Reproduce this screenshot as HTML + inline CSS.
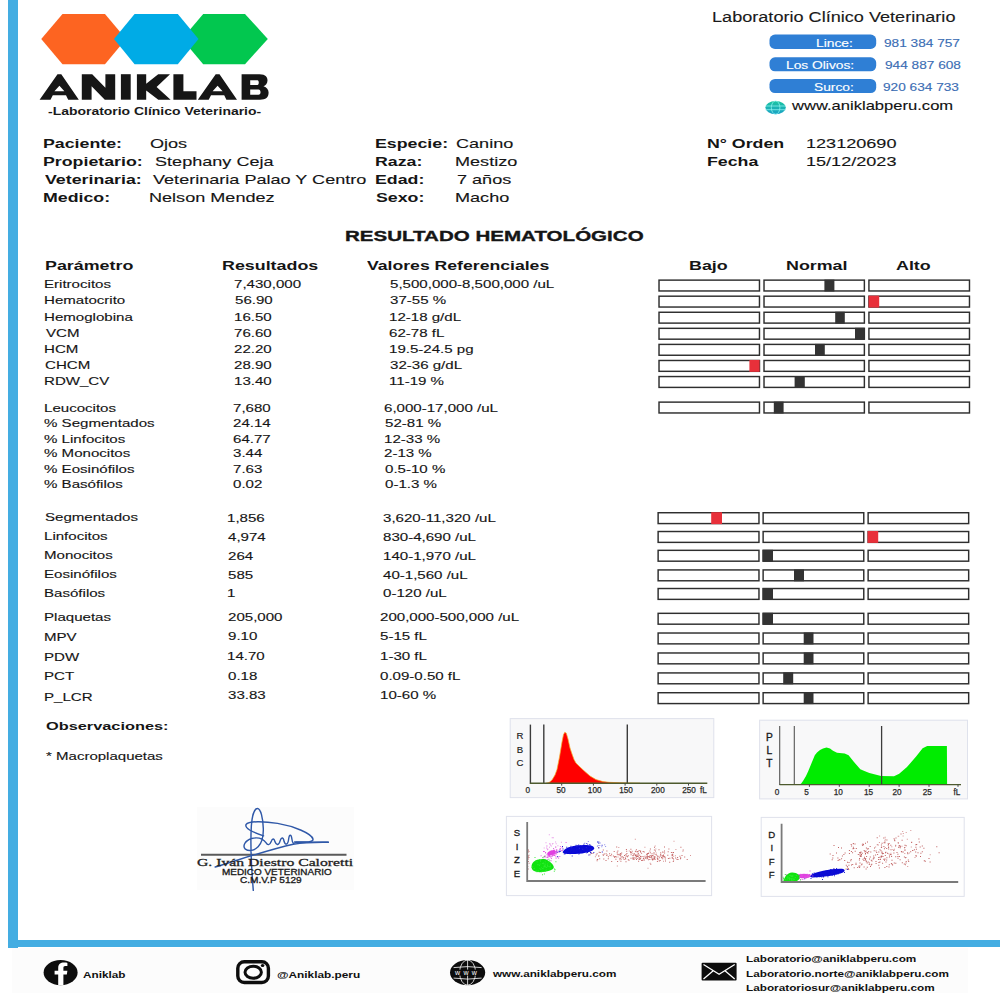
<!DOCTYPE html>
<html><head><meta charset="utf-8"><style>
html,body{margin:0;padding:0;background:#fff;width:1000px;height:1000px;overflow:hidden;position:relative}
.t{position:absolute;white-space:nowrap;line-height:normal;transform-origin:0 0;font-family:'Liberation Sans',sans-serif;-webkit-text-stroke:0.12px currentColor}
</style></head><body>
<div style="position:absolute;left:12px;top:948px;width:956px;height:45px;background:#fcfcfc"></div>
<div style="position:absolute;left:7.5px;top:0;width:10px;height:947.5px;background:#44ade2"></div>
<div style="position:absolute;left:7.5px;top:940.3px;width:992.5px;height:7.2px;background:#44ade2"></div>
<svg style="position:absolute;left:0;top:0" width="300" height="130" viewBox="0 0 300 130"><polygon fill="#fd6421" points="41.25,38.9 62.5,13.9 105,13.9 126,38.9 105,64.2 62.5,64.2"/><polygon fill="#02c74f" points="182,38.9 203.2,13.9 245,13.9 267.8,38.9 245,64.2 203.2,64.2"/><polygon fill="#00abe6" points="114,38.9 134.6,13.9 177.8,13.9 198.5,38.9 177.8,64.2 134.6,64.2"/><path fill="#161616" fill-rule="evenodd" d="M39.6,99.7 L57.50000000000001,74.2 L61.300000000000004,74.2 L78.80000000000001,99.7 L68.2,99.7 L66.0,95.3 L52.8,95.3 L50.5,99.7 Z M59.400000000000006,85.7 L54.400000000000006,91.3 L64.4,91.3 Z"/><path fill="#161616" d="M81.8,99.7 L81.8,74.2 L92.2,74.2 L105.4,87.7 L105.4,74.2 L115.2,74.2 L115.2,99.7 L104.8,99.7 L91.6,86.2 L91.6,99.7 Z"/><rect fill="#161616" x="120.9" y="74.2" width="9.8" height="25.5"/><path fill="#161616" d="M136.9,74.2 L146.2,74.2 L146.2,83.7 L158.2,74.2 L170,74.2 L156.6,87.10000000000001 L170.6,99.7 L158.3,99.7 L146.2,90.5 L146.2,99.7 L136.9,99.7 Z"/><path fill="#161616" d="M173.4,74.2 L183.4,74.2 L183.4,91.3 L196.5,91.3 L196.5,99.7 L173.4,99.7 Z"/><path fill="#161616" fill-rule="evenodd" d="M197.8,99.7 L215.70000000000002,74.2 L219.50000000000003,74.2 L237.0,99.7 L226.4,99.7 L224.20000000000002,95.3 L211.0,95.3 L208.70000000000002,99.7 Z M217.60000000000002,85.7 L212.60000000000002,91.3 L222.60000000000002,91.3 Z"/><path fill="#161616" fill-rule="evenodd" d="M241.6,74.2 L259.5,74.2 C266,74.2 267.5,77.4 267.5,80.4 C267.5,83.4 265.5,85.2 263.5,86.2 C266.8,87.2 268.6,89.7 268.6,92.6 C268.6,97.5 265.8,99.7 260,99.7 L241.6,99.7 Z M250.2,80.2 L257.5,80.2 C259.2,80.2 259.2,85.0 257.5,85.0 L250.2,85.0 Z M250.2,89.60000000000001 L258.5,89.60000000000001 C261.2,89.60000000000001 261.2,94.80000000000001 258.5,94.80000000000001 L250.2,94.80000000000001 Z"/></svg>
<svg style="position:absolute;left:0;top:0" width="1000" height="130"><rect x="769.5" y="34.6" width="106.7" height="14.3" rx="5.5" fill="#2f7fd5"/><rect x="769.5" y="57.3" width="106.7" height="14.0" rx="5.5" fill="#2f7fd5"/><rect x="769.5" y="78.9" width="106.7" height="14.1" rx="5.5" fill="#2f7fd5"/><defs><linearGradient id="gg" x1="0" y1="0" x2="0" y2="1"><stop offset="0" stop-color="#1cc4a0"/><stop offset="1" stop-color="#1ba2c6"/></linearGradient></defs><ellipse cx="775.6" cy="107.6" rx="10.2" ry="6.6" fill="url(#gg)"/><g stroke="#8ff4f0" stroke-width="0.75" fill="none"><ellipse cx="775.6" cy="107.6" rx="4.3" ry="6.6"/><line x1="765.4" y1="106.0" x2="785.8000000000001" y2="106.0"/><line x1="765.4" y1="109.69999999999999" x2="785.8000000000001" y2="109.69999999999999"/></g></svg>
<svg style="position:absolute;left:0;top:0" width="1000" height="720"><rect x="659.02" y="280.12" width="100.45" height="10.85" fill="#fff" stroke="#2e2e2e" stroke-width="1.45"/><rect x="764.02" y="280.12" width="100.35" height="10.85" fill="#fff" stroke="#2e2e2e" stroke-width="1.45"/><rect x="868.93" y="280.12" width="100.55" height="10.85" fill="#fff" stroke="#2e2e2e" stroke-width="1.45"/><rect x="824.4" y="279.60" width="10.00" height="11.90" fill="#333333"/><rect x="659.02" y="296.19" width="100.45" height="10.85" fill="#fff" stroke="#2e2e2e" stroke-width="1.45"/><rect x="764.02" y="296.19" width="100.35" height="10.85" fill="#fff" stroke="#2e2e2e" stroke-width="1.45"/><rect x="868.93" y="296.19" width="100.55" height="10.85" fill="#fff" stroke="#2e2e2e" stroke-width="1.45"/><rect x="868.6" y="295.67" width="10.60" height="11.90" fill="#e8303a"/><rect x="659.02" y="312.26" width="100.45" height="10.85" fill="#fff" stroke="#2e2e2e" stroke-width="1.45"/><rect x="764.02" y="312.26" width="100.35" height="10.85" fill="#fff" stroke="#2e2e2e" stroke-width="1.45"/><rect x="868.93" y="312.26" width="100.55" height="10.85" fill="#fff" stroke="#2e2e2e" stroke-width="1.45"/><rect x="835.2" y="311.74" width="9.60" height="11.90" fill="#333333"/><rect x="659.02" y="328.33" width="100.45" height="10.85" fill="#fff" stroke="#2e2e2e" stroke-width="1.45"/><rect x="764.02" y="328.33" width="100.35" height="10.85" fill="#fff" stroke="#2e2e2e" stroke-width="1.45"/><rect x="868.93" y="328.33" width="100.55" height="10.85" fill="#fff" stroke="#2e2e2e" stroke-width="1.45"/><rect x="855.0" y="327.81" width="9.60" height="11.90" fill="#333333"/><rect x="659.02" y="344.40" width="100.45" height="10.85" fill="#fff" stroke="#2e2e2e" stroke-width="1.45"/><rect x="764.02" y="344.40" width="100.35" height="10.85" fill="#fff" stroke="#2e2e2e" stroke-width="1.45"/><rect x="868.93" y="344.40" width="100.55" height="10.85" fill="#fff" stroke="#2e2e2e" stroke-width="1.45"/><rect x="815.0" y="343.88" width="9.80" height="11.90" fill="#333333"/><rect x="659.02" y="360.48" width="100.45" height="10.85" fill="#fff" stroke="#2e2e2e" stroke-width="1.45"/><rect x="764.02" y="360.48" width="100.35" height="10.85" fill="#fff" stroke="#2e2e2e" stroke-width="1.45"/><rect x="868.93" y="360.48" width="100.55" height="10.85" fill="#fff" stroke="#2e2e2e" stroke-width="1.45"/><rect x="749.4" y="359.95" width="10.20" height="11.90" fill="#e8303a"/><rect x="659.02" y="376.55" width="100.45" height="10.85" fill="#fff" stroke="#2e2e2e" stroke-width="1.45"/><rect x="764.02" y="376.55" width="100.35" height="10.85" fill="#fff" stroke="#2e2e2e" stroke-width="1.45"/><rect x="868.93" y="376.55" width="100.55" height="10.85" fill="#fff" stroke="#2e2e2e" stroke-width="1.45"/><rect x="794.6" y="376.02" width="10.20" height="11.90" fill="#333333"/><rect x="659.02" y="402.12" width="100.45" height="10.85" fill="#fff" stroke="#2e2e2e" stroke-width="1.45"/><rect x="764.02" y="402.12" width="100.35" height="10.85" fill="#fff" stroke="#2e2e2e" stroke-width="1.45"/><rect x="868.93" y="402.12" width="100.55" height="10.85" fill="#fff" stroke="#2e2e2e" stroke-width="1.45"/><rect x="773.8" y="401.60" width="9.80" height="11.90" fill="#333333"/><rect x="658.12" y="512.73" width="100.85" height="10.85" fill="#fff" stroke="#2e2e2e" stroke-width="1.45"/><rect x="763.12" y="512.73" width="100.65" height="10.85" fill="#fff" stroke="#2e2e2e" stroke-width="1.45"/><rect x="868.12" y="512.73" width="100.55" height="10.85" fill="#fff" stroke="#2e2e2e" stroke-width="1.45"/><rect x="711.2" y="512.20" width="10.80" height="11.90" fill="#e8303a"/><rect x="658.12" y="531.52" width="100.85" height="10.85" fill="#fff" stroke="#2e2e2e" stroke-width="1.45"/><rect x="763.12" y="531.52" width="100.65" height="10.85" fill="#fff" stroke="#2e2e2e" stroke-width="1.45"/><rect x="868.12" y="531.52" width="100.55" height="10.85" fill="#fff" stroke="#2e2e2e" stroke-width="1.45"/><rect x="867.6" y="531.00" width="10.60" height="11.90" fill="#e8303a"/><rect x="658.12" y="550.33" width="100.85" height="10.85" fill="#fff" stroke="#2e2e2e" stroke-width="1.45"/><rect x="763.12" y="550.33" width="100.65" height="10.85" fill="#fff" stroke="#2e2e2e" stroke-width="1.45"/><rect x="868.12" y="550.33" width="100.55" height="10.85" fill="#fff" stroke="#2e2e2e" stroke-width="1.45"/><rect x="762.6" y="549.80" width="10.40" height="11.90" fill="#333333"/><rect x="658.12" y="569.93" width="100.85" height="10.85" fill="#fff" stroke="#2e2e2e" stroke-width="1.45"/><rect x="763.12" y="569.93" width="100.65" height="10.85" fill="#fff" stroke="#2e2e2e" stroke-width="1.45"/><rect x="868.12" y="569.93" width="100.55" height="10.85" fill="#fff" stroke="#2e2e2e" stroke-width="1.45"/><rect x="794" y="569.40" width="10.00" height="11.90" fill="#333333"/><rect x="658.12" y="588.52" width="100.85" height="10.85" fill="#fff" stroke="#2e2e2e" stroke-width="1.45"/><rect x="763.12" y="588.52" width="100.65" height="10.85" fill="#fff" stroke="#2e2e2e" stroke-width="1.45"/><rect x="868.12" y="588.52" width="100.55" height="10.85" fill="#fff" stroke="#2e2e2e" stroke-width="1.45"/><rect x="762.6" y="588.00" width="10.40" height="11.90" fill="#333333"/><rect x="658.12" y="613.33" width="100.85" height="10.85" fill="#fff" stroke="#2e2e2e" stroke-width="1.45"/><rect x="763.12" y="613.33" width="100.65" height="10.85" fill="#fff" stroke="#2e2e2e" stroke-width="1.45"/><rect x="868.12" y="613.33" width="100.55" height="10.85" fill="#fff" stroke="#2e2e2e" stroke-width="1.45"/><rect x="762.6" y="612.80" width="10.40" height="11.90" fill="#333333"/><rect x="658.12" y="633.02" width="100.85" height="10.85" fill="#fff" stroke="#2e2e2e" stroke-width="1.45"/><rect x="763.12" y="633.02" width="100.65" height="10.85" fill="#fff" stroke="#2e2e2e" stroke-width="1.45"/><rect x="868.12" y="633.02" width="100.55" height="10.85" fill="#fff" stroke="#2e2e2e" stroke-width="1.45"/><rect x="803.7" y="632.50" width="9.80" height="11.90" fill="#333333"/><rect x="658.12" y="652.98" width="100.85" height="10.85" fill="#fff" stroke="#2e2e2e" stroke-width="1.45"/><rect x="763.12" y="652.98" width="100.65" height="10.85" fill="#fff" stroke="#2e2e2e" stroke-width="1.45"/><rect x="868.12" y="652.98" width="100.55" height="10.85" fill="#fff" stroke="#2e2e2e" stroke-width="1.45"/><rect x="803.7" y="652.45" width="9.80" height="11.90" fill="#333333"/><rect x="658.12" y="672.93" width="100.85" height="10.85" fill="#fff" stroke="#2e2e2e" stroke-width="1.45"/><rect x="763.12" y="672.93" width="100.65" height="10.85" fill="#fff" stroke="#2e2e2e" stroke-width="1.45"/><rect x="868.12" y="672.93" width="100.55" height="10.85" fill="#fff" stroke="#2e2e2e" stroke-width="1.45"/><rect x="783.2" y="672.40" width="10.00" height="11.90" fill="#333333"/><rect x="658.12" y="692.73" width="100.85" height="10.85" fill="#fff" stroke="#2e2e2e" stroke-width="1.45"/><rect x="763.12" y="692.73" width="100.65" height="10.85" fill="#fff" stroke="#2e2e2e" stroke-width="1.45"/><rect x="868.12" y="692.73" width="100.55" height="10.85" fill="#fff" stroke="#2e2e2e" stroke-width="1.45"/><rect x="803.7" y="692.20" width="9.80" height="11.90" fill="#333333"/></svg>
<svg style="position:absolute;left:0;top:0" width="1000" height="1000"><rect x="510.2" y="718.6" width="203.6" height="79" fill="#f8f8f9" stroke="#dfe2ec" stroke-width="1"/><path d="M546,783.3 L549,782.6 L552,780 L555,775 L557,769.6 L559.5,757 L562,742 L563.5,734.5 L564.8,732.3 L566.3,733.2 L568,739 L570,748 L572,754 L574,759.5 L575.9,763 L580,767 L584.3,771 L590,776 L596,779.6 L603,781.6 L609,782.3 L620,782.8 L640,783.3 Z" fill="#ff0000" stroke="#f3b028" stroke-width="0.7"/><g stroke="#3c3c3c" stroke-width="1.4"><line x1="530.4" y1="724.6" x2="530.4" y2="784"/><line x1="543.8" y1="724.6" x2="543.8" y2="783.3"/><line x1="627.3" y1="724.4" x2="627.3" y2="783.3"/></g><line x1="530" y1="783.3" x2="707.3" y2="783.3" stroke="#4d5a2e" stroke-width="1.4"/><line x1="561.7" y1="783.3" x2="561.7" y2="785.6" stroke="#444" stroke-width="1"/><line x1="593.4" y1="783.3" x2="593.4" y2="785.6" stroke="#444" stroke-width="1"/><line x1="625.1" y1="783.3" x2="625.1" y2="785.6" stroke="#444" stroke-width="1"/><line x1="656.8" y1="783.3" x2="656.8" y2="785.6" stroke="#444" stroke-width="1"/><line x1="688.5" y1="783.3" x2="688.5" y2="785.6" stroke="#444" stroke-width="1"/><text stroke="#2a2a2a" stroke-width="0.25" x="527.7" y="793.4" font-size="8.2" text-anchor="middle" font-weight="normal" fill="#2a2a2a" font-family="Liberation Sans">0</text><text stroke="#2a2a2a" stroke-width="0.25" x="561" y="793.4" font-size="8.2" text-anchor="middle" font-weight="normal" fill="#2a2a2a" font-family="Liberation Sans">50</text><text stroke="#2a2a2a" stroke-width="0.25" x="594.7" y="793.4" font-size="8.2" text-anchor="middle" font-weight="normal" fill="#2a2a2a" font-family="Liberation Sans">100</text><text stroke="#2a2a2a" stroke-width="0.25" x="626" y="793.4" font-size="8.2" text-anchor="middle" font-weight="normal" fill="#2a2a2a" font-family="Liberation Sans">150</text><text stroke="#2a2a2a" stroke-width="0.25" x="657.9" y="793.4" font-size="8.2" text-anchor="middle" font-weight="normal" fill="#2a2a2a" font-family="Liberation Sans">200</text><text stroke="#2a2a2a" stroke-width="0.25" x="689" y="793.4" font-size="8.2" text-anchor="middle" font-weight="normal" fill="#2a2a2a" font-family="Liberation Sans">250</text><text stroke="#2a2a2a" stroke-width="0.25" x="703.4" y="793.4" font-size="8.2" text-anchor="middle" font-weight="normal" fill="#2a2a2a" font-family="Liberation Sans">fL</text><text stroke="#1a1a1a" stroke-width="0.15" x="520" y="739.2" font-size="9.6" text-anchor="middle" font-weight="normal" fill="#1a1a1a" font-family="Liberation Sans">R</text><text stroke="#1a1a1a" stroke-width="0.15" x="520" y="752.8" font-size="9.6" text-anchor="middle" font-weight="normal" fill="#1a1a1a" font-family="Liberation Sans">B</text><text stroke="#1a1a1a" stroke-width="0.15" x="520" y="766.4" font-size="9.6" text-anchor="middle" font-weight="normal" fill="#1a1a1a" font-family="Liberation Sans">C</text><rect x="759.6" y="720.2" width="207.9" height="78.7" fill="#f8f8f9" stroke="#dfe2ec" stroke-width="1"/><path d="M798.6,784.6 L801,783.8 L803,781 L806,776 L808.3,770.9 L812,762 L814.8,755.3 L817,752.5 L820,750.1 L823,748.6 L826.5,747.6 L830,748.6 L833,750.8 L837,752.7 L844.7,753.4 L848.6,755.3 L854,762 L860.3,769.2 L865,771.3 L869.4,772.9 L881.1,776.1 L894,776.3 L899.2,773.7 L907,767 L916.1,756.6 L922.6,748.2 L927.2,746 L946.9,746 L947.1,784.6 Z" fill="#00ec00"/><g stroke="#555" stroke-width="1.1"><line x1="779.7" y1="726" x2="779.7" y2="785"/><line x1="794.3" y1="726" x2="794.3" y2="784.6"/></g><g stroke="#3c3c3c" stroke-width="1.3"><line x1="881.6" y1="726" x2="881.6" y2="784.6"/></g><line x1="779.5" y1="784.6" x2="961" y2="784.6" stroke="#4d5a2e" stroke-width="1.4"/><line x1="809.4" y1="784.6" x2="809.4" y2="786.8" stroke="#444" stroke-width="1"/><line x1="839.3" y1="784.6" x2="839.3" y2="786.8" stroke="#444" stroke-width="1"/><line x1="869.2" y1="784.6" x2="869.2" y2="786.8" stroke="#444" stroke-width="1"/><line x1="899.1" y1="784.6" x2="899.1" y2="786.8" stroke="#444" stroke-width="1"/><line x1="929.0" y1="784.6" x2="929.0" y2="786.8" stroke="#444" stroke-width="1"/><line x1="958.0" y1="784.6" x2="958.0" y2="786.8" stroke="#444" stroke-width="1"/><text stroke="#2a2a2a" stroke-width="0.25" x="777" y="795" font-size="8.2" text-anchor="middle" font-weight="normal" fill="#2a2a2a" font-family="Liberation Sans">0</text><text stroke="#2a2a2a" stroke-width="0.25" x="806.6" y="795" font-size="8.2" text-anchor="middle" font-weight="normal" fill="#2a2a2a" font-family="Liberation Sans">5</text><text stroke="#2a2a2a" stroke-width="0.25" x="838.2" y="795" font-size="8.2" text-anchor="middle" font-weight="normal" fill="#2a2a2a" font-family="Liberation Sans">10</text><text stroke="#2a2a2a" stroke-width="0.25" x="868.5" y="795" font-size="8.2" text-anchor="middle" font-weight="normal" fill="#2a2a2a" font-family="Liberation Sans">15</text><text stroke="#2a2a2a" stroke-width="0.25" x="897" y="795" font-size="8.2" text-anchor="middle" font-weight="normal" fill="#2a2a2a" font-family="Liberation Sans">20</text><text stroke="#2a2a2a" stroke-width="0.25" x="927.2" y="795" font-size="8.2" text-anchor="middle" font-weight="normal" fill="#2a2a2a" font-family="Liberation Sans">25</text><text stroke="#2a2a2a" stroke-width="0.25" x="957" y="795" font-size="8.2" text-anchor="middle" font-weight="normal" fill="#2a2a2a" font-family="Liberation Sans">fL</text><text stroke="#1a1a1a" stroke-width="0.35" x="769.3" y="740.6" font-size="10.2" text-anchor="middle" font-weight="normal" fill="#1a1a1a" font-family="Liberation Sans">P</text><text stroke="#1a1a1a" stroke-width="0.35" x="769.3" y="754.2" font-size="10.2" text-anchor="middle" font-weight="normal" fill="#1a1a1a" font-family="Liberation Sans">L</text><text stroke="#1a1a1a" stroke-width="0.35" x="769.3" y="767.2" font-size="10.2" text-anchor="middle" font-weight="normal" fill="#1a1a1a" font-family="Liberation Sans">T</text><rect x="506.4" y="816.4" width="205.2" height="79.2" fill="#fefefe" stroke="#dfe2ec" stroke-width="1"/><path fill="#b84040" opacity="0.8" d="M634.4,857.2h1.0v1.0h-1.0zM635.0,854.4h1.0v1.0h-1.0zM619.5,854.8h1.0v1.0h-1.0zM664.5,856.9h1.0v1.0h-1.0zM662.8,856.3h1.0v1.0h-1.0zM648.7,856.1h1.0v1.0h-1.0zM603.3,858.4h1.0v1.0h-1.0zM651.1,857.2h1.0v1.0h-1.0zM602.8,849.6h1.0v1.0h-1.0zM620.4,853.9h1.0v1.0h-1.0zM646.7,855.3h1.0v1.0h-1.0zM651.5,853.3h1.0v1.0h-1.0zM646.8,856.8h1.0v1.0h-1.0zM625.5,861.3h1.0v1.0h-1.0zM652.2,859.6h1.0v1.0h-1.0zM626.4,853.0h1.0v1.0h-1.0zM632.4,855.1h1.0v1.0h-1.0zM653.9,856.3h1.0v1.0h-1.0zM630.2,852.2h1.0v1.0h-1.0zM628.5,859.7h1.0v1.0h-1.0zM622.2,856.3h1.0v1.0h-1.0zM649.4,850.4h1.0v1.0h-1.0zM641.1,859.9h1.0v1.0h-1.0zM595.7,854.4h1.0v1.0h-1.0zM637.7,852.7h1.0v1.0h-1.0zM650.9,855.3h1.0v1.0h-1.0zM607.8,858.3h1.0v1.0h-1.0zM654.7,858.7h1.0v1.0h-1.0zM671.7,856.7h1.0v1.0h-1.0zM642.6,851.1h1.0v1.0h-1.0zM653.5,853.4h1.0v1.0h-1.0zM630.0,851.2h1.0v1.0h-1.0zM618.7,853.7h1.0v1.0h-1.0zM668.4,848.6h1.0v1.0h-1.0zM607.9,856.3h1.0v1.0h-1.0zM671.8,857.5h1.0v1.0h-1.0zM598.2,846.9h1.0v1.0h-1.0zM647.9,853.0h1.0v1.0h-1.0zM615.4,858.8h1.0v1.0h-1.0zM664.2,856.0h1.0v1.0h-1.0zM645.4,857.0h1.0v1.0h-1.0zM675.1,857.6h1.0v1.0h-1.0zM651.4,857.4h1.0v1.0h-1.0zM605.5,859.9h1.0v1.0h-1.0zM661.0,857.3h1.0v1.0h-1.0zM596.6,853.3h1.0v1.0h-1.0zM658.5,849.3h1.0v1.0h-1.0zM636.0,859.0h1.0v1.0h-1.0zM611.2,861.0h1.0v1.0h-1.0zM652.1,855.0h1.0v1.0h-1.0zM647.1,857.7h1.0v1.0h-1.0zM642.6,859.4h1.0v1.0h-1.0zM625.4,854.1h1.0v1.0h-1.0zM662.9,855.6h1.0v1.0h-1.0zM620.6,858.7h1.0v1.0h-1.0zM672.2,854.0h1.0v1.0h-1.0zM609.6,855.0h1.0v1.0h-1.0zM636.7,854.5h1.0v1.0h-1.0zM670.9,852.0h1.0v1.0h-1.0zM667.7,851.2h1.0v1.0h-1.0zM622.7,857.6h1.0v1.0h-1.0zM664.8,858.4h1.0v1.0h-1.0zM647.6,856.0h1.0v1.0h-1.0zM643.4,857.5h1.0v1.0h-1.0zM636.1,856.4h1.0v1.0h-1.0zM652.6,855.5h1.0v1.0h-1.0zM656.8,857.4h1.0v1.0h-1.0zM684.2,856.6h1.0v1.0h-1.0zM630.6,854.2h1.0v1.0h-1.0zM639.7,858.6h1.0v1.0h-1.0zM632.6,856.8h1.0v1.0h-1.0zM680.4,846.8h1.0v1.0h-1.0zM615.3,856.3h1.0v1.0h-1.0zM648.8,856.3h1.0v1.0h-1.0zM630.5,857.7h1.0v1.0h-1.0zM646.2,853.7h1.0v1.0h-1.0zM627.8,855.2h1.0v1.0h-1.0zM635.0,855.3h1.0v1.0h-1.0zM662.2,851.5h1.0v1.0h-1.0zM638.5,858.7h1.0v1.0h-1.0zM658.8,860.6h1.0v1.0h-1.0zM602.6,854.3h1.0v1.0h-1.0zM632.5,857.6h1.0v1.0h-1.0zM664.0,846.4h1.0v1.0h-1.0zM664.0,850.6h1.0v1.0h-1.0zM655.0,850.4h1.0v1.0h-1.0zM643.9,859.6h1.0v1.0h-1.0zM636.7,856.1h1.0v1.0h-1.0zM657.5,856.0h1.0v1.0h-1.0zM638.1,860.7h1.0v1.0h-1.0zM663.1,854.5h1.0v1.0h-1.0zM660.1,854.6h1.0v1.0h-1.0zM642.9,857.9h1.0v1.0h-1.0zM644.9,857.7h1.0v1.0h-1.0zM606.4,850.4h1.0v1.0h-1.0zM653.5,852.2h1.0v1.0h-1.0zM617.4,850.5h1.0v1.0h-1.0zM667.9,858.0h1.0v1.0h-1.0zM672.4,852.3h1.0v1.0h-1.0zM640.0,851.6h1.0v1.0h-1.0zM656.9,860.9h1.0v1.0h-1.0zM620.4,860.8h1.0v1.0h-1.0zM661.7,854.9h1.0v1.0h-1.0zM596.6,860.3h1.0v1.0h-1.0zM637.9,853.5h1.0v1.0h-1.0zM648.8,856.9h1.0v1.0h-1.0zM673.0,852.0h1.0v1.0h-1.0zM665.0,860.6h1.0v1.0h-1.0zM671.9,854.9h1.0v1.0h-1.0zM623.6,859.0h1.0v1.0h-1.0zM642.5,855.9h1.0v1.0h-1.0zM671.3,854.6h1.0v1.0h-1.0zM589.5,854.2h1.0v1.0h-1.0zM599.2,858.3h1.0v1.0h-1.0zM647.0,853.4h1.0v1.0h-1.0zM639.8,858.3h1.0v1.0h-1.0zM641.7,860.0h1.0v1.0h-1.0zM638.7,859.0h1.0v1.0h-1.0zM672.8,861.0h1.0v1.0h-1.0zM625.2,858.5h1.0v1.0h-1.0zM598.7,851.8h1.0v1.0h-1.0zM596.8,859.1h1.0v1.0h-1.0zM612.9,855.5h1.0v1.0h-1.0zM635.8,855.4h1.0v1.0h-1.0zM627.0,856.3h1.0v1.0h-1.0zM679.4,855.7h1.0v1.0h-1.0zM651.7,858.9h1.0v1.0h-1.0zM635.6,851.2h1.0v1.0h-1.0zM627.8,859.2h1.0v1.0h-1.0zM603.8,853.5h1.0v1.0h-1.0zM662.2,858.2h1.0v1.0h-1.0zM640.2,858.2h1.0v1.0h-1.0zM643.7,851.5h1.0v1.0h-1.0zM605.6,853.3h1.0v1.0h-1.0zM660.3,853.6h1.0v1.0h-1.0zM620.1,852.9h1.0v1.0h-1.0zM606.3,855.1h1.0v1.0h-1.0zM614.0,856.7h1.0v1.0h-1.0zM625.9,848.9h1.0v1.0h-1.0zM655.9,854.6h1.0v1.0h-1.0zM590.9,852.5h1.0v1.0h-1.0zM646.4,853.9h1.0v1.0h-1.0zM657.2,858.0h1.0v1.0h-1.0zM654.7,856.6h1.0v1.0h-1.0zM669.3,857.7h1.0v1.0h-1.0zM649.9,848.4h1.0v1.0h-1.0zM659.7,860.0h1.0v1.0h-1.0zM633.5,853.9h1.0v1.0h-1.0zM682.7,849.5h1.0v1.0h-1.0zM650.3,863.7h1.0v1.0h-1.0zM619.6,857.8h1.0v1.0h-1.0zM681.5,855.1h1.0v1.0h-1.0zM652.3,858.6h1.0v1.0h-1.0zM620.1,855.2h1.0v1.0h-1.0zM646.4,858.3h1.0v1.0h-1.0zM639.2,854.8h1.0v1.0h-1.0zM617.6,854.3h1.0v1.0h-1.0zM659.6,855.8h1.0v1.0h-1.0zM621.2,852.6h1.0v1.0h-1.0zM654.0,846.7h1.0v1.0h-1.0zM653.7,857.1h1.0v1.0h-1.0zM677.1,857.0h1.0v1.0h-1.0zM638.5,857.3h1.0v1.0h-1.0zM597.2,859.0h1.0v1.0h-1.0zM647.1,853.1h1.0v1.0h-1.0zM669.2,861.7h1.0v1.0h-1.0zM609.1,853.2h1.0v1.0h-1.0zM646.4,856.1h1.0v1.0h-1.0zM631.2,852.2h1.0v1.0h-1.0zM686.7,859.0h1.0v1.0h-1.0zM613.7,850.9h1.0v1.0h-1.0zM677.5,858.9h1.0v1.0h-1.0zM680.1,858.3h1.0v1.0h-1.0zM620.8,856.4h1.0v1.0h-1.0zM592.5,853.0h1.0v1.0h-1.0zM638.7,857.3h1.0v1.0h-1.0zM624.0,855.1h1.0v1.0h-1.0zM650.1,856.8h1.0v1.0h-1.0zM654.0,856.2h1.0v1.0h-1.0zM632.9,858.2h1.0v1.0h-1.0zM641.1,852.7h1.0v1.0h-1.0zM626.2,855.5h1.0v1.0h-1.0zM637.6,856.0h1.0v1.0h-1.0zM640.0,856.1h1.0v1.0h-1.0zM637.0,851.2h1.0v1.0h-1.0zM649.3,859.1h1.0v1.0h-1.0zM649.6,854.9h1.0v1.0h-1.0zM649.8,852.2h1.0v1.0h-1.0zM598.3,855.7h1.0v1.0h-1.0zM619.5,858.0h1.0v1.0h-1.0zM616.2,846.6h1.0v1.0h-1.0zM617.1,860.9h1.0v1.0h-1.0zM631.6,850.8h1.0v1.0h-1.0zM623.2,857.3h1.0v1.0h-1.0zM650.9,856.1h1.0v1.0h-1.0zM672.6,857.9h1.0v1.0h-1.0zM639.5,857.5h1.0v1.0h-1.0zM676.4,858.8h1.0v1.0h-1.0zM662.5,851.8h1.0v1.0h-1.0zM636.7,858.0h1.0v1.0h-1.0zM633.5,859.1h1.0v1.0h-1.0zM653.1,858.6h1.0v1.0h-1.0zM667.3,854.8h1.0v1.0h-1.0zM632.4,858.5h1.0v1.0h-1.0zM661.6,855.5h1.0v1.0h-1.0zM614.3,856.1h1.0v1.0h-1.0zM647.9,859.3h1.0v1.0h-1.0zM657.2,855.6h1.0v1.0h-1.0zM658.8,857.3h1.0v1.0h-1.0zM644.5,855.7h1.0v1.0h-1.0zM634.6,857.8h1.0v1.0h-1.0zM616.8,853.4h1.0v1.0h-1.0zM640.1,850.5h1.0v1.0h-1.0zM630.4,848.7h1.0v1.0h-1.0zM625.0,857.4h1.0v1.0h-1.0zM652.5,855.3h1.0v1.0h-1.0zM634.9,850.7h1.0v1.0h-1.0zM680.2,857.3h1.0v1.0h-1.0zM664.1,852.5h1.0v1.0h-1.0zM635.9,849.3h1.0v1.0h-1.0zM657.2,858.7h1.0v1.0h-1.0zM598.3,855.3h1.0v1.0h-1.0zM653.9,849.5h1.0v1.0h-1.0zM599.8,851.9h1.0v1.0h-1.0zM626.2,850.7h1.0v1.0h-1.0zM640.7,856.3h1.0v1.0h-1.0zM653.9,857.9h1.0v1.0h-1.0zM673.1,859.5h1.0v1.0h-1.0zM611.1,853.8h1.0v1.0h-1.0zM616.7,851.8h1.0v1.0h-1.0z"/><path fill="#c05050" opacity="0.6" d="M637.6,855.0h1.0v1.0h-1.0zM654.7,845.5h1.0v1.0h-1.0zM602.9,854.9h1.0v1.0h-1.0zM634.0,853.1h1.0v1.0h-1.0zM638.1,850.4h1.0v1.0h-1.0zM661.0,857.1h1.0v1.0h-1.0zM637.4,851.0h1.0v1.0h-1.0zM634.8,838.7h1.0v1.0h-1.0zM610.6,855.2h1.0v1.0h-1.0zM594.9,856.2h1.0v1.0h-1.0zM644.4,846.7h1.0v1.0h-1.0zM632.5,853.1h1.0v1.0h-1.0zM653.8,858.7h1.0v1.0h-1.0zM638.9,849.9h1.0v1.0h-1.0zM635.7,854.6h1.0v1.0h-1.0zM662.0,856.8h1.0v1.0h-1.0zM618.3,846.9h1.0v1.0h-1.0zM628.8,850.6h1.0v1.0h-1.0zM606.6,854.3h1.0v1.0h-1.0zM625.3,855.6h1.0v1.0h-1.0zM655.7,852.5h1.0v1.0h-1.0zM673.1,855.7h1.0v1.0h-1.0zM673.5,840.7h1.0v1.0h-1.0zM617.5,856.5h1.0v1.0h-1.0zM649.7,862.7h1.0v1.0h-1.0zM663.0,860.7h1.0v1.0h-1.0zM655.3,854.1h1.0v1.0h-1.0zM655.3,848.5h1.0v1.0h-1.0zM675.4,848.9h1.0v1.0h-1.0zM647.5,867.7h1.0v1.0h-1.0zM633.3,855.1h1.0v1.0h-1.0zM674.9,855.2h1.0v1.0h-1.0zM615.8,856.5h1.0v1.0h-1.0zM657.5,859.3h1.0v1.0h-1.0zM616.8,865.5h1.0v1.0h-1.0zM690.0,855.1h1.0v1.0h-1.0zM648.1,852.4h1.0v1.0h-1.0zM682.4,850.8h1.0v1.0h-1.0zM660.2,852.1h1.0v1.0h-1.0zM619.2,859.3h1.0v1.0h-1.0z"/><path fill="#b05050" opacity="0.7" d="M528.5,856.9h1.0v1.0h-1.0zM527.7,861.1h1.0v1.0h-1.0zM528.0,858.6h1.0v1.0h-1.0zM528.6,862.7h1.0v1.0h-1.0zM527.8,868.4h1.0v1.0h-1.0zM528.0,860.9h1.0v1.0h-1.0zM527.7,856.8h1.0v1.0h-1.0zM527.3,865.9h1.0v1.0h-1.0zM528.5,850.9h1.0v1.0h-1.0zM527.4,848.9h1.0v1.0h-1.0zM528.5,854.7h1.0v1.0h-1.0zM528.0,855.4h1.0v1.0h-1.0zM528.0,851.6h1.0v1.0h-1.0zM528.0,849.8h1.0v1.0h-1.0z"/><path fill="#e040e0" opacity="0.85" d="M551.9,853.9h1.0v1.0h-1.0zM554.3,851.4h1.0v1.0h-1.0zM547.2,855.5h1.0v1.0h-1.0zM550.9,857.9h1.0v1.0h-1.0zM556.1,850.9h1.0v1.0h-1.0zM548.7,852.4h1.0v1.0h-1.0zM546.5,854.3h1.0v1.0h-1.0zM554.2,853.5h1.0v1.0h-1.0zM557.3,856.7h1.0v1.0h-1.0zM548.1,854.7h1.0v1.0h-1.0zM565.6,842.0h1.0v1.0h-1.0zM549.3,854.6h1.0v1.0h-1.0zM553.3,853.6h1.0v1.0h-1.0zM551.1,854.4h1.0v1.0h-1.0zM553.1,854.7h1.0v1.0h-1.0zM540.6,855.3h1.0v1.0h-1.0zM550.9,850.5h1.0v1.0h-1.0zM546.9,856.9h1.0v1.0h-1.0zM549.1,856.0h1.0v1.0h-1.0zM556.4,852.0h1.0v1.0h-1.0zM554.7,851.6h1.0v1.0h-1.0zM544.2,856.2h1.0v1.0h-1.0zM554.0,850.7h1.0v1.0h-1.0zM552.2,855.0h1.0v1.0h-1.0zM547.8,856.6h1.0v1.0h-1.0zM561.7,847.3h1.0v1.0h-1.0zM552.7,852.3h1.0v1.0h-1.0zM560.8,850.2h1.0v1.0h-1.0zM556.3,849.2h1.0v1.0h-1.0zM551.9,853.0h1.0v1.0h-1.0zM543.6,860.6h1.0v1.0h-1.0zM555.2,846.7h1.0v1.0h-1.0zM556.0,850.9h1.0v1.0h-1.0zM554.8,852.8h1.0v1.0h-1.0zM543.5,856.0h1.0v1.0h-1.0zM559.7,848.1h1.0v1.0h-1.0zM545.0,852.1h1.0v1.0h-1.0zM545.6,856.7h1.0v1.0h-1.0zM561.8,850.1h1.0v1.0h-1.0zM555.6,857.8h1.0v1.0h-1.0zM548.4,852.6h1.0v1.0h-1.0zM555.5,853.1h1.0v1.0h-1.0zM545.2,852.6h1.0v1.0h-1.0zM553.9,852.9h1.0v1.0h-1.0zM544.6,855.6h1.0v1.0h-1.0zM549.5,855.4h1.0v1.0h-1.0zM551.3,853.1h1.0v1.0h-1.0zM551.1,856.3h1.0v1.0h-1.0zM559.3,848.9h1.0v1.0h-1.0zM555.9,849.2h1.0v1.0h-1.0zM553.2,854.6h1.0v1.0h-1.0zM560.0,848.5h1.0v1.0h-1.0zM551.8,853.6h1.0v1.0h-1.0zM543.7,856.5h1.0v1.0h-1.0zM548.6,855.5h1.0v1.0h-1.0zM543.8,850.9h1.0v1.0h-1.0zM552.5,853.5h1.0v1.0h-1.0zM549.9,856.4h1.0v1.0h-1.0zM549.9,852.2h1.0v1.0h-1.0zM553.1,848.1h1.0v1.0h-1.0zM548.2,854.5h1.0v1.0h-1.0zM556.5,850.6h1.0v1.0h-1.0zM553.0,850.7h1.0v1.0h-1.0zM555.4,856.3h1.0v1.0h-1.0zM550.6,860.3h1.0v1.0h-1.0zM548.5,854.5h1.0v1.0h-1.0zM554.0,855.0h1.0v1.0h-1.0zM543.0,850.9h1.0v1.0h-1.0zM556.2,853.5h1.0v1.0h-1.0zM558.1,857.8h1.0v1.0h-1.0zM553.4,853.1h1.0v1.0h-1.0zM557.5,851.7h1.0v1.0h-1.0zM559.9,846.1h1.0v1.0h-1.0zM546.4,845.6h1.0v1.0h-1.0zM556.1,850.2h1.0v1.0h-1.0zM559.3,856.0h1.0v1.0h-1.0zM551.7,852.4h1.0v1.0h-1.0zM548.4,852.2h1.0v1.0h-1.0zM549.2,856.0h1.0v1.0h-1.0zM552.3,853.1h1.0v1.0h-1.0zM552.0,855.6h1.0v1.0h-1.0zM554.6,851.5h1.0v1.0h-1.0zM555.5,851.1h1.0v1.0h-1.0zM547.1,859.2h1.0v1.0h-1.0zM553.6,849.6h1.0v1.0h-1.0zM558.3,851.3h1.0v1.0h-1.0zM545.0,860.5h1.0v1.0h-1.0zM554.7,854.4h1.0v1.0h-1.0zM552.9,852.2h1.0v1.0h-1.0zM544.4,858.9h1.0v1.0h-1.0z"/><path fill="#e070e0" opacity="0.7" d="M549.2,843.6h1.0v1.0h-1.0zM550.8,845.4h1.0v1.0h-1.0zM552.4,843.1h1.0v1.0h-1.0zM548.8,834.3h1.0v1.0h-1.0zM546.9,848.4h1.0v1.0h-1.0zM555.7,843.2h1.0v1.0h-1.0zM548.4,852.9h1.0v1.0h-1.0zM547.4,848.7h1.0v1.0h-1.0zM557.4,845.2h1.0v1.0h-1.0zM555.1,841.4h1.0v1.0h-1.0zM550.0,844.6h1.0v1.0h-1.0zM549.6,850.6h1.0v1.0h-1.0zM560.9,841.7h1.0v1.0h-1.0zM546.1,847.5h1.0v1.0h-1.0zM543.7,847.5h1.0v1.0h-1.0zM551.9,843.6h1.0v1.0h-1.0zM551.7,837.3h1.0v1.0h-1.0zM552.8,837.3h1.0v1.0h-1.0zM545.5,842.2h1.0v1.0h-1.0zM547.0,849.3h1.0v1.0h-1.0zM549.4,843.0h1.0v1.0h-1.0zM551.7,852.9h1.0v1.0h-1.0zM549.0,846.8h1.0v1.0h-1.0zM555.2,846.3h1.0v1.0h-1.0zM542.6,857.5h1.0v1.0h-1.0z"/><ellipse cx="551.5" cy="852.8" rx="4.5" ry="2.2" fill="#e040e0" transform="rotate(-20 551.5 852.8)"/><path d="M563,851.5 C565,847 574,845.2 584,844.9 C590,844.8 594.5,845.8 594.2,848.5 C593.8,851.5 585,853.6 575,854 C567,854.3 562,853.8 563,851.5 Z" fill="#0808d8"/><path fill="#1010d0" opacity="0.9" d="M598.3,842.8h1.0v1.0h-1.0zM578.7,850.3h1.0v1.0h-1.0zM587.8,850.0h1.0v1.0h-1.0zM576.3,847.1h1.0v1.0h-1.0zM580.2,851.6h1.0v1.0h-1.0zM569.0,847.9h1.0v1.0h-1.0zM578.3,844.9h1.0v1.0h-1.0zM576.6,848.5h1.0v1.0h-1.0zM582.9,847.3h1.0v1.0h-1.0zM571.0,849.2h1.0v1.0h-1.0zM578.4,847.8h1.0v1.0h-1.0zM579.3,851.0h1.0v1.0h-1.0zM590.0,852.1h1.0v1.0h-1.0zM571.9,849.0h1.0v1.0h-1.0zM557.2,855.9h1.0v1.0h-1.0zM572.5,849.9h1.0v1.0h-1.0zM583.4,845.7h1.0v1.0h-1.0zM583.1,848.8h1.0v1.0h-1.0zM562.7,851.6h1.0v1.0h-1.0zM589.3,844.0h1.0v1.0h-1.0zM586.3,849.1h1.0v1.0h-1.0zM583.4,849.9h1.0v1.0h-1.0zM590.6,847.6h1.0v1.0h-1.0zM586.7,847.6h1.0v1.0h-1.0zM585.3,846.8h1.0v1.0h-1.0zM578.4,853.4h1.0v1.0h-1.0zM583.0,848.5h1.0v1.0h-1.0zM568.6,848.5h1.0v1.0h-1.0zM580.9,851.3h1.0v1.0h-1.0zM582.9,850.1h1.0v1.0h-1.0zM578.9,852.4h1.0v1.0h-1.0zM575.4,848.4h1.0v1.0h-1.0zM587.0,848.6h1.0v1.0h-1.0zM576.4,848.2h1.0v1.0h-1.0zM576.8,851.0h1.0v1.0h-1.0zM581.9,846.2h1.0v1.0h-1.0zM582.9,849.3h1.0v1.0h-1.0zM570.2,852.0h1.0v1.0h-1.0zM576.4,848.8h1.0v1.0h-1.0zM586.4,851.6h1.0v1.0h-1.0zM572.9,850.9h1.0v1.0h-1.0zM571.7,855.4h1.0v1.0h-1.0zM574.9,852.5h1.0v1.0h-1.0zM573.4,851.7h1.0v1.0h-1.0zM598.3,841.5h1.0v1.0h-1.0zM575.2,850.8h1.0v1.0h-1.0zM578.0,847.9h1.0v1.0h-1.0zM598.3,847.5h1.0v1.0h-1.0zM564.5,852.7h1.0v1.0h-1.0zM563.8,853.5h1.0v1.0h-1.0zM573.9,850.2h1.0v1.0h-1.0zM590.3,848.4h1.0v1.0h-1.0zM566.2,846.7h1.0v1.0h-1.0zM589.8,849.9h1.0v1.0h-1.0zM571.9,852.0h1.0v1.0h-1.0zM583.6,850.3h1.0v1.0h-1.0zM558.7,850.6h1.0v1.0h-1.0zM587.2,850.2h1.0v1.0h-1.0zM586.3,842.9h1.0v1.0h-1.0zM580.6,850.3h1.0v1.0h-1.0zM601.6,844.8h1.0v1.0h-1.0zM576.1,849.7h1.0v1.0h-1.0zM586.8,847.5h1.0v1.0h-1.0zM589.1,846.5h1.0v1.0h-1.0zM581.3,847.9h1.0v1.0h-1.0zM580.3,847.6h1.0v1.0h-1.0zM564.9,853.2h1.0v1.0h-1.0zM581.6,847.7h1.0v1.0h-1.0zM581.0,851.4h1.0v1.0h-1.0zM570.2,849.9h1.0v1.0h-1.0zM583.9,850.0h1.0v1.0h-1.0zM575.5,844.8h1.0v1.0h-1.0zM590.2,848.9h1.0v1.0h-1.0zM579.1,848.7h1.0v1.0h-1.0zM581.3,848.1h1.0v1.0h-1.0zM569.7,848.5h1.0v1.0h-1.0zM573.5,848.4h1.0v1.0h-1.0zM568.8,851.8h1.0v1.0h-1.0zM567.4,852.0h1.0v1.0h-1.0zM570.0,851.0h1.0v1.0h-1.0zM591.4,848.5h1.0v1.0h-1.0zM572.5,850.1h1.0v1.0h-1.0zM579.9,845.2h1.0v1.0h-1.0zM573.6,850.2h1.0v1.0h-1.0zM574.8,849.9h1.0v1.0h-1.0zM585.7,850.4h1.0v1.0h-1.0zM587.2,849.8h1.0v1.0h-1.0zM576.4,849.5h1.0v1.0h-1.0zM576.5,848.8h1.0v1.0h-1.0zM577.0,845.5h1.0v1.0h-1.0zM576.0,849.5h1.0v1.0h-1.0zM570.3,850.1h1.0v1.0h-1.0zM583.6,848.5h1.0v1.0h-1.0zM597.0,841.5h1.0v1.0h-1.0zM576.7,845.3h1.0v1.0h-1.0zM588.4,854.5h1.0v1.0h-1.0zM556.6,851.8h1.0v1.0h-1.0zM583.6,848.1h1.0v1.0h-1.0zM583.4,843.7h1.0v1.0h-1.0zM586.7,849.4h1.0v1.0h-1.0zM579.1,847.9h1.0v1.0h-1.0zM584.6,847.6h1.0v1.0h-1.0zM580.9,847.9h1.0v1.0h-1.0zM558.9,851.2h1.0v1.0h-1.0zM581.0,850.8h1.0v1.0h-1.0zM571.1,850.0h1.0v1.0h-1.0zM584.6,849.1h1.0v1.0h-1.0zM590.6,852.7h1.0v1.0h-1.0zM570.4,845.7h1.0v1.0h-1.0zM587.0,852.0h1.0v1.0h-1.0zM587.4,850.3h1.0v1.0h-1.0zM573.3,848.2h1.0v1.0h-1.0zM586.7,846.4h1.0v1.0h-1.0zM562.5,848.6h1.0v1.0h-1.0zM601.8,851.5h1.0v1.0h-1.0zM572.7,848.2h1.0v1.0h-1.0zM580.9,847.4h1.0v1.0h-1.0zM590.7,847.9h1.0v1.0h-1.0zM569.6,853.3h1.0v1.0h-1.0zM573.8,850.3h1.0v1.0h-1.0zM578.8,848.6h1.0v1.0h-1.0zM581.8,847.4h1.0v1.0h-1.0zM562.0,845.9h1.0v1.0h-1.0zM567.5,848.7h1.0v1.0h-1.0zM578.8,849.4h1.0v1.0h-1.0zM584.0,849.1h1.0v1.0h-1.0zM571.7,848.4h1.0v1.0h-1.0zM560.0,850.8h1.0v1.0h-1.0zM583.5,850.1h1.0v1.0h-1.0zM577.9,849.0h1.0v1.0h-1.0zM587.4,848.5h1.0v1.0h-1.0zM585.7,850.0h1.0v1.0h-1.0zM581.2,852.1h1.0v1.0h-1.0zM573.8,849.0h1.0v1.0h-1.0zM571.6,848.2h1.0v1.0h-1.0zM593.3,851.9h1.0v1.0h-1.0zM579.3,850.6h1.0v1.0h-1.0zM589.7,850.1h1.0v1.0h-1.0zM589.5,845.3h1.0v1.0h-1.0zM573.4,850.9h1.0v1.0h-1.0z"/><path fill="#4040e0" opacity="0.6" d="M599.3,844.9h1.0v1.0h-1.0zM576.4,845.8h1.0v1.0h-1.0zM578.2,844.1h1.0v1.0h-1.0zM599.7,842.6h1.0v1.0h-1.0zM585.9,852.4h1.0v1.0h-1.0zM596.9,845.8h1.0v1.0h-1.0zM579.0,847.8h1.0v1.0h-1.0zM601.3,846.2h1.0v1.0h-1.0zM597.6,845.0h1.0v1.0h-1.0zM590.1,844.9h1.0v1.0h-1.0zM589.6,849.5h1.0v1.0h-1.0zM570.7,847.2h1.0v1.0h-1.0zM587.2,844.1h1.0v1.0h-1.0zM582.2,848.7h1.0v1.0h-1.0zM605.1,845.9h1.0v1.0h-1.0zM587.8,841.0h1.0v1.0h-1.0zM604.2,844.3h1.0v1.0h-1.0zM584.3,842.7h1.0v1.0h-1.0zM584.1,842.8h1.0v1.0h-1.0zM585.8,847.3h1.0v1.0h-1.0z"/><path d="M531.5,867 C531.5,862.5 535,860 538.5,859.5 C542,858.6 545,858.6 548,860.5 C551,862.5 554,865 553.8,867.5 C553.5,870 547,872 540,872.2 C534.5,872.3 531.5,870 531.5,867 Z" fill="#10e310"/><path fill="#30ea30" opacity="0.9" d="M543.2,866.6h1.0v1.0h-1.0zM537.9,870.7h1.0v1.0h-1.0zM539.1,859.1h1.0v1.0h-1.0zM541.9,862.9h1.0v1.0h-1.0zM536.9,864.3h1.0v1.0h-1.0zM544.7,861.3h1.0v1.0h-1.0zM542.2,870.7h1.0v1.0h-1.0zM547.1,865.1h1.0v1.0h-1.0zM543.8,865.2h1.0v1.0h-1.0zM542.7,868.2h1.0v1.0h-1.0zM542.4,856.9h1.0v1.0h-1.0zM542.9,862.4h1.0v1.0h-1.0zM546.9,863.4h1.0v1.0h-1.0zM543.9,873.4h1.0v1.0h-1.0zM536.7,861.6h1.0v1.0h-1.0zM534.5,857.0h1.0v1.0h-1.0zM531.7,866.9h1.0v1.0h-1.0zM539.2,858.9h1.0v1.0h-1.0zM534.1,867.8h1.0v1.0h-1.0zM538.3,864.3h1.0v1.0h-1.0zM545.0,870.5h1.0v1.0h-1.0zM554.6,869.3h1.0v1.0h-1.0zM543.9,866.3h1.0v1.0h-1.0zM553.8,870.7h1.0v1.0h-1.0zM541.1,867.2h1.0v1.0h-1.0zM544.7,865.8h1.0v1.0h-1.0zM540.0,860.8h1.0v1.0h-1.0zM539.8,860.0h1.0v1.0h-1.0zM550.3,867.5h1.0v1.0h-1.0zM535.8,870.6h1.0v1.0h-1.0zM548.4,858.7h1.0v1.0h-1.0zM554.0,868.5h1.0v1.0h-1.0zM555.4,861.2h1.0v1.0h-1.0zM546.2,867.1h1.0v1.0h-1.0zM544.2,866.2h1.0v1.0h-1.0zM549.3,860.2h1.0v1.0h-1.0zM535.5,860.6h1.0v1.0h-1.0zM539.7,863.4h1.0v1.0h-1.0zM545.2,866.6h1.0v1.0h-1.0zM543.2,863.2h1.0v1.0h-1.0zM540.3,869.0h1.0v1.0h-1.0zM547.6,866.0h1.0v1.0h-1.0zM541.1,871.2h1.0v1.0h-1.0zM539.4,867.9h1.0v1.0h-1.0zM549.9,864.6h1.0v1.0h-1.0zM548.0,861.6h1.0v1.0h-1.0zM549.1,866.3h1.0v1.0h-1.0zM533.5,868.0h1.0v1.0h-1.0zM537.6,870.2h1.0v1.0h-1.0zM538.9,865.0h1.0v1.0h-1.0zM544.7,864.4h1.0v1.0h-1.0zM544.6,863.6h1.0v1.0h-1.0zM547.0,865.6h1.0v1.0h-1.0zM544.3,855.7h1.0v1.0h-1.0zM550.0,865.7h1.0v1.0h-1.0zM532.3,865.9h1.0v1.0h-1.0zM545.8,869.5h1.0v1.0h-1.0zM536.5,871.2h1.0v1.0h-1.0zM542.0,874.2h1.0v1.0h-1.0zM542.1,868.0h1.0v1.0h-1.0z"/><g stroke="#7a7a7a" stroke-width="1.8" fill="none"><path d="M527.2,822 L527.2,881 L705.6,881"/></g><text stroke="#1a1a1a" stroke-width="0.3" x="517" y="836.4" font-size="9.6" text-anchor="middle" font-weight="normal" fill="#1a1a1a" font-family="Liberation Sans">S</text><text stroke="#1a1a1a" stroke-width="0.3" x="517" y="849.8" font-size="9.6" text-anchor="middle" font-weight="normal" fill="#1a1a1a" font-family="Liberation Sans">I</text><text stroke="#1a1a1a" stroke-width="0.3" x="517" y="863.4" font-size="9.6" text-anchor="middle" font-weight="normal" fill="#1a1a1a" font-family="Liberation Sans">Z</text><text stroke="#1a1a1a" stroke-width="0.3" x="517" y="877.2" font-size="9.6" text-anchor="middle" font-weight="normal" fill="#1a1a1a" font-family="Liberation Sans">E</text><rect x="761.2" y="817.4" width="203" height="79" fill="#fefefe" stroke="#dfe2ec" stroke-width="1"/><path fill="#b03838" opacity="0.8" d="M867.9,848.2h1.0v1.0h-1.0zM905.1,857.2h1.0v1.0h-1.0zM915.5,855.1h1.0v1.0h-1.0zM862.3,845.0h1.0v1.0h-1.0zM861.8,852.7h1.0v1.0h-1.0zM859.5,862.6h1.0v1.0h-1.0zM885.4,851.7h1.0v1.0h-1.0zM881.9,853.2h1.0v1.0h-1.0zM884.0,859.7h1.0v1.0h-1.0zM899.8,846.0h1.0v1.0h-1.0zM882.1,862.7h1.0v1.0h-1.0zM838.7,859.2h1.0v1.0h-1.0zM876.8,844.2h1.0v1.0h-1.0zM866.7,862.4h1.0v1.0h-1.0zM905.5,862.4h1.0v1.0h-1.0zM855.8,848.1h1.0v1.0h-1.0zM891.5,859.8h1.0v1.0h-1.0zM880.9,844.6h1.0v1.0h-1.0zM897.5,857.7h1.0v1.0h-1.0zM890.5,849.2h1.0v1.0h-1.0zM886.2,859.6h1.0v1.0h-1.0zM862.4,843.6h1.0v1.0h-1.0zM886.4,857.2h1.0v1.0h-1.0zM879.4,861.5h1.0v1.0h-1.0zM864.0,856.8h1.0v1.0h-1.0zM871.5,860.5h1.0v1.0h-1.0zM915.4,846.7h1.0v1.0h-1.0zM928.5,858.0h1.0v1.0h-1.0zM897.4,856.1h1.0v1.0h-1.0zM919.7,846.5h1.0v1.0h-1.0zM874.0,847.6h1.0v1.0h-1.0zM890.9,863.0h1.0v1.0h-1.0zM891.1,856.0h1.0v1.0h-1.0zM873.5,857.1h1.0v1.0h-1.0zM845.6,868.5h1.0v1.0h-1.0zM866.9,848.5h1.0v1.0h-1.0zM859.2,852.0h1.0v1.0h-1.0zM899.6,859.3h1.0v1.0h-1.0zM847.1,867.4h1.0v1.0h-1.0zM898.3,847.1h1.0v1.0h-1.0zM841.9,855.5h1.0v1.0h-1.0zM863.4,860.1h1.0v1.0h-1.0zM867.0,841.5h1.0v1.0h-1.0zM881.6,842.7h1.0v1.0h-1.0zM897.9,842.4h1.0v1.0h-1.0zM860.5,851.5h1.0v1.0h-1.0zM866.8,866.8h1.0v1.0h-1.0zM898.9,856.0h1.0v1.0h-1.0zM883.6,842.3h1.0v1.0h-1.0zM865.0,853.0h1.0v1.0h-1.0zM855.5,862.7h1.0v1.0h-1.0zM859.6,852.8h1.0v1.0h-1.0zM850.7,844.0h1.0v1.0h-1.0zM893.8,862.4h1.0v1.0h-1.0zM880.9,847.1h1.0v1.0h-1.0zM907.1,852.3h1.0v1.0h-1.0zM901.8,862.2h1.0v1.0h-1.0zM904.1,847.2h1.0v1.0h-1.0zM903.9,856.5h1.0v1.0h-1.0zM841.1,858.2h1.0v1.0h-1.0zM844.2,860.0h1.0v1.0h-1.0zM890.3,844.8h1.0v1.0h-1.0zM888.8,864.3h1.0v1.0h-1.0zM848.0,868.2h1.0v1.0h-1.0zM929.6,861.4h1.0v1.0h-1.0zM873.4,857.8h1.0v1.0h-1.0zM875.6,863.0h1.0v1.0h-1.0zM902.7,851.4h1.0v1.0h-1.0zM846.8,866.0h1.0v1.0h-1.0zM867.7,861.6h1.0v1.0h-1.0zM886.3,865.9h1.0v1.0h-1.0zM904.3,847.0h1.0v1.0h-1.0zM888.5,866.6h1.0v1.0h-1.0zM865.8,860.4h1.0v1.0h-1.0zM907.8,859.5h1.0v1.0h-1.0zM888.6,843.1h1.0v1.0h-1.0zM848.5,861.9h1.0v1.0h-1.0zM859.1,866.9h1.0v1.0h-1.0zM894.1,839.5h1.0v1.0h-1.0zM858.9,859.6h1.0v1.0h-1.0zM866.1,855.9h1.0v1.0h-1.0zM888.1,847.1h1.0v1.0h-1.0zM888.2,848.4h1.0v1.0h-1.0zM865.8,861.2h1.0v1.0h-1.0zM864.8,859.5h1.0v1.0h-1.0zM915.9,848.7h1.0v1.0h-1.0zM875.5,861.0h1.0v1.0h-1.0zM870.7,864.5h1.0v1.0h-1.0zM848.4,864.8h1.0v1.0h-1.0zM864.9,851.2h1.0v1.0h-1.0zM918.8,841.5h1.0v1.0h-1.0zM920.4,852.7h1.0v1.0h-1.0zM911.1,841.9h1.0v1.0h-1.0zM908.2,860.9h1.0v1.0h-1.0zM875.1,854.5h1.0v1.0h-1.0zM936.3,846.3h1.0v1.0h-1.0zM867.2,852.1h1.0v1.0h-1.0zM889.0,855.6h1.0v1.0h-1.0zM884.4,867.0h1.0v1.0h-1.0zM870.8,859.8h1.0v1.0h-1.0zM911.2,841.7h1.0v1.0h-1.0zM904.9,864.3h1.0v1.0h-1.0zM844.6,852.4h1.0v1.0h-1.0zM851.1,845.6h1.0v1.0h-1.0zM886.4,839.4h1.0v1.0h-1.0zM891.6,863.7h1.0v1.0h-1.0zM839.4,859.2h1.0v1.0h-1.0zM833.6,868.5h1.0v1.0h-1.0zM860.2,856.0h1.0v1.0h-1.0zM880.0,858.8h1.0v1.0h-1.0zM869.8,856.5h1.0v1.0h-1.0zM865.2,858.1h1.0v1.0h-1.0zM850.3,860.2h1.0v1.0h-1.0zM831.7,859.2h1.0v1.0h-1.0zM923.4,847.8h1.0v1.0h-1.0zM848.5,862.0h1.0v1.0h-1.0zM852.9,846.7h1.0v1.0h-1.0zM861.5,863.4h1.0v1.0h-1.0zM887.0,852.7h1.0v1.0h-1.0zM854.7,850.8h1.0v1.0h-1.0zM910.2,851.3h1.0v1.0h-1.0zM852.8,843.3h1.0v1.0h-1.0zM850.7,859.1h1.0v1.0h-1.0zM882.8,853.0h1.0v1.0h-1.0zM869.7,846.0h1.0v1.0h-1.0zM861.2,864.3h1.0v1.0h-1.0zM837.6,859.9h1.0v1.0h-1.0zM885.5,861.6h1.0v1.0h-1.0zM852.2,864.0h1.0v1.0h-1.0zM886.2,848.0h1.0v1.0h-1.0zM888.1,846.4h1.0v1.0h-1.0zM859.1,858.1h1.0v1.0h-1.0zM852.5,848.2h1.0v1.0h-1.0zM868.9,862.4h1.0v1.0h-1.0zM870.0,866.0h1.0v1.0h-1.0zM848.9,850.0h1.0v1.0h-1.0zM915.2,851.6h1.0v1.0h-1.0zM899.3,845.1h1.0v1.0h-1.0zM897.4,853.7h1.0v1.0h-1.0zM893.4,852.6h1.0v1.0h-1.0zM905.7,845.3h1.0v1.0h-1.0zM853.3,848.0h1.0v1.0h-1.0zM904.5,844.8h1.0v1.0h-1.0zM852.1,852.3h1.0v1.0h-1.0zM865.9,847.4h1.0v1.0h-1.0zM870.3,851.5h1.0v1.0h-1.0zM863.7,850.1h1.0v1.0h-1.0zM878.3,851.4h1.0v1.0h-1.0zM881.0,856.4h1.0v1.0h-1.0zM883.3,837.4h1.0v1.0h-1.0zM864.3,851.3h1.0v1.0h-1.0zM894.3,840.2h1.0v1.0h-1.0zM860.7,855.7h1.0v1.0h-1.0zM871.3,863.7h1.0v1.0h-1.0zM868.8,863.9h1.0v1.0h-1.0zM841.0,847.6h1.0v1.0h-1.0zM907.4,853.3h1.0v1.0h-1.0zM889.7,853.9h1.0v1.0h-1.0zM887.9,844.0h1.0v1.0h-1.0zM899.8,847.2h1.0v1.0h-1.0zM901.4,851.6h1.0v1.0h-1.0zM829.7,853.5h1.0v1.0h-1.0zM904.5,849.4h1.0v1.0h-1.0zM869.0,858.4h1.0v1.0h-1.0zM867.3,852.7h1.0v1.0h-1.0zM880.6,855.7h1.0v1.0h-1.0zM913.9,849.2h1.0v1.0h-1.0zM924.8,860.7h1.0v1.0h-1.0zM920.0,855.9h1.0v1.0h-1.0zM881.3,855.5h1.0v1.0h-1.0zM873.7,850.2h1.0v1.0h-1.0zM875.6,850.5h1.0v1.0h-1.0zM917.5,852.3h1.0v1.0h-1.0zM865.0,842.7h1.0v1.0h-1.0zM876.2,852.1h1.0v1.0h-1.0zM850.9,851.0h1.0v1.0h-1.0zM877.1,854.0h1.0v1.0h-1.0zM912.3,850.1h1.0v1.0h-1.0zM881.5,851.6h1.0v1.0h-1.0zM865.6,868.5h1.0v1.0h-1.0zM903.8,863.6h1.0v1.0h-1.0zM869.8,856.6h1.0v1.0h-1.0zM858.4,865.7h1.0v1.0h-1.0zM845.8,864.8h1.0v1.0h-1.0zM905.7,861.0h1.0v1.0h-1.0zM857.2,866.9h1.0v1.0h-1.0zM860.2,852.3h1.0v1.0h-1.0zM848.2,868.9h1.0v1.0h-1.0zM916.2,843.9h1.0v1.0h-1.0zM859.6,855.6h1.0v1.0h-1.0zM938.6,852.2h1.0v1.0h-1.0zM862.9,843.9h1.0v1.0h-1.0zM863.6,866.5h1.0v1.0h-1.0zM921.8,845.4h1.0v1.0h-1.0zM861.0,854.0h1.0v1.0h-1.0zM834.5,869.4h1.0v1.0h-1.0zM853.7,867.3h1.0v1.0h-1.0zM836.0,852.5h1.0v1.0h-1.0zM883.9,848.2h1.0v1.0h-1.0zM896.5,851.9h1.0v1.0h-1.0zM851.0,864.4h1.0v1.0h-1.0zM895.5,837.4h1.0v1.0h-1.0zM921.8,851.3h1.0v1.0h-1.0zM893.6,838.2h1.0v1.0h-1.0zM860.5,855.3h1.0v1.0h-1.0zM901.6,839.8h1.0v1.0h-1.0zM854.5,843.6h1.0v1.0h-1.0zM872.7,858.5h1.0v1.0h-1.0zM837.4,857.5h1.0v1.0h-1.0zM892.1,864.6h1.0v1.0h-1.0zM893.3,850.1h1.0v1.0h-1.0zM848.9,852.9h1.0v1.0h-1.0zM862.5,858.8h1.0v1.0h-1.0zM878.9,867.5h1.0v1.0h-1.0zM883.4,845.9h1.0v1.0h-1.0zM915.7,855.7h1.0v1.0h-1.0zM879.5,849.3h1.0v1.0h-1.0zM832.5,855.0h1.0v1.0h-1.0zM898.5,845.4h1.0v1.0h-1.0zM847.0,861.8h1.0v1.0h-1.0zM884.5,858.5h1.0v1.0h-1.0zM895.3,862.8h1.0v1.0h-1.0zM859.4,865.6h1.0v1.0h-1.0zM855.5,864.1h1.0v1.0h-1.0zM882.5,856.1h1.0v1.0h-1.0zM900.9,850.9h1.0v1.0h-1.0zM905.4,857.0h1.0v1.0h-1.0zM880.5,850.3h1.0v1.0h-1.0zM859.5,854.2h1.0v1.0h-1.0zM873.2,855.6h1.0v1.0h-1.0zM895.1,845.5h1.0v1.0h-1.0zM860.8,855.5h1.0v1.0h-1.0zM881.2,846.6h1.0v1.0h-1.0zM915.4,844.3h1.0v1.0h-1.0zM900.5,833.4h1.0v1.0h-1.0zM878.2,857.1h1.0v1.0h-1.0zM883.3,858.7h1.0v1.0h-1.0zM884.8,855.1h1.0v1.0h-1.0zM832.3,857.4h1.0v1.0h-1.0zM885.0,852.3h1.0v1.0h-1.0zM857.8,854.0h1.0v1.0h-1.0zM923.8,860.3h1.0v1.0h-1.0zM878.3,864.8h1.0v1.0h-1.0zM838.0,847.1h1.0v1.0h-1.0zM865.5,850.5h1.0v1.0h-1.0zM865.0,858.7h1.0v1.0h-1.0zM879.5,856.8h1.0v1.0h-1.0zM878.4,862.0h1.0v1.0h-1.0zM918.4,838.6h1.0v1.0h-1.0zM881.5,852.4h1.0v1.0h-1.0zM884.5,842.2h1.0v1.0h-1.0zM833.5,845.0h1.0v1.0h-1.0zM890.7,854.3h1.0v1.0h-1.0zM876.7,837.2h1.0v1.0h-1.0zM868.2,850.9h1.0v1.0h-1.0zM843.4,854.0h1.0v1.0h-1.0zM895.2,856.2h1.0v1.0h-1.0zM878.1,858.9h1.0v1.0h-1.0zM863.8,858.0h1.0v1.0h-1.0zM879.7,858.9h1.0v1.0h-1.0z"/><path fill="#c05050" opacity="0.6" d="M887.7,845.0h1.0v1.0h-1.0zM884.8,840.5h1.0v1.0h-1.0zM907.2,865.9h1.0v1.0h-1.0zM912.1,850.1h1.0v1.0h-1.0zM910.3,829.9h1.0v1.0h-1.0zM864.9,853.8h1.0v1.0h-1.0zM902.8,833.0h1.0v1.0h-1.0zM877.9,844.4h1.0v1.0h-1.0zM892.4,848.9h1.0v1.0h-1.0zM879.1,835.6h1.0v1.0h-1.0zM929.7,854.2h1.0v1.0h-1.0zM888.9,856.7h1.0v1.0h-1.0zM904.4,849.8h1.0v1.0h-1.0zM902.6,835.6h1.0v1.0h-1.0zM908.9,852.5h1.0v1.0h-1.0zM878.9,842.1h1.0v1.0h-1.0zM866.3,852.0h1.0v1.0h-1.0zM890.4,852.8h1.0v1.0h-1.0zM910.8,846.6h1.0v1.0h-1.0zM897.6,842.3h1.0v1.0h-1.0zM884.8,838.7h1.0v1.0h-1.0zM895.2,844.7h1.0v1.0h-1.0zM897.7,835.7h1.0v1.0h-1.0zM891.3,846.2h1.0v1.0h-1.0zM905.7,832.0h1.0v1.0h-1.0zM904.3,853.1h1.0v1.0h-1.0zM906.8,838.8h1.0v1.0h-1.0zM875.1,846.6h1.0v1.0h-1.0zM914.5,856.9h1.0v1.0h-1.0zM884.1,840.6h1.0v1.0h-1.0zM901.5,845.8h1.0v1.0h-1.0zM861.8,844.2h1.0v1.0h-1.0zM888.3,853.2h1.0v1.0h-1.0zM852.9,843.1h1.0v1.0h-1.0zM902.2,831.0h1.0v1.0h-1.0zM893.9,848.8h1.0v1.0h-1.0zM884.7,836.7h1.0v1.0h-1.0zM887.6,843.1h1.0v1.0h-1.0zM898.2,835.8h1.0v1.0h-1.0zM884.8,847.1h1.0v1.0h-1.0z"/><path d="M810.5,875.5 C815,871.5 830,869 840,868.8 C845,868.7 846,870.8 843,872.4 C837,875 822,877.2 813,877.4 C810,877.5 809.5,876.6 810.5,875.5 Z" fill="#0808d8"/><path fill="#1010d0" opacity="0.9" d="M835.4,870.7h1.0v1.0h-1.0zM831.7,871.3h1.0v1.0h-1.0zM834.0,875.2h1.0v1.0h-1.0zM823.5,874.3h1.0v1.0h-1.0zM819.0,875.9h1.0v1.0h-1.0zM837.8,871.5h1.0v1.0h-1.0zM817.0,875.1h1.0v1.0h-1.0zM837.5,873.5h1.0v1.0h-1.0zM833.8,868.7h1.0v1.0h-1.0zM821.3,876.4h1.0v1.0h-1.0zM816.4,876.6h1.0v1.0h-1.0zM844.0,872.0h1.0v1.0h-1.0zM836.9,871.0h1.0v1.0h-1.0zM816.1,874.4h1.0v1.0h-1.0zM825.2,873.2h1.0v1.0h-1.0zM833.2,871.9h1.0v1.0h-1.0zM828.8,873.5h1.0v1.0h-1.0zM827.4,876.3h1.0v1.0h-1.0zM831.0,872.6h1.0v1.0h-1.0zM825.0,872.1h1.0v1.0h-1.0zM839.0,871.6h1.0v1.0h-1.0zM817.2,873.4h1.0v1.0h-1.0zM825.7,872.4h1.0v1.0h-1.0zM836.4,869.6h1.0v1.0h-1.0zM831.4,872.6h1.0v1.0h-1.0zM816.5,874.6h1.0v1.0h-1.0zM826.3,874.0h1.0v1.0h-1.0zM823.1,874.1h1.0v1.0h-1.0zM811.9,873.2h1.0v1.0h-1.0zM834.3,873.9h1.0v1.0h-1.0zM826.7,871.9h1.0v1.0h-1.0zM836.1,867.9h1.0v1.0h-1.0zM820.0,875.2h1.0v1.0h-1.0zM832.6,870.3h1.0v1.0h-1.0zM810.5,878.0h1.0v1.0h-1.0zM828.1,871.2h1.0v1.0h-1.0zM827.7,874.5h1.0v1.0h-1.0zM804.2,878.2h1.0v1.0h-1.0zM833.1,868.4h1.0v1.0h-1.0zM833.4,868.9h1.0v1.0h-1.0zM837.3,872.3h1.0v1.0h-1.0zM846.9,869.1h1.0v1.0h-1.0zM827.3,874.9h1.0v1.0h-1.0zM821.1,872.5h1.0v1.0h-1.0zM823.7,873.3h1.0v1.0h-1.0zM817.5,875.2h1.0v1.0h-1.0zM831.9,872.4h1.0v1.0h-1.0zM842.1,870.3h1.0v1.0h-1.0zM838.5,870.4h1.0v1.0h-1.0zM833.2,868.6h1.0v1.0h-1.0zM828.7,872.4h1.0v1.0h-1.0zM822.4,872.5h1.0v1.0h-1.0zM823.7,872.2h1.0v1.0h-1.0zM807.3,874.7h1.0v1.0h-1.0zM822.0,872.8h1.0v1.0h-1.0zM817.5,874.1h1.0v1.0h-1.0zM833.9,871.6h1.0v1.0h-1.0zM823.0,876.0h1.0v1.0h-1.0zM835.9,873.4h1.0v1.0h-1.0zM837.2,871.0h1.0v1.0h-1.0zM826.1,875.1h1.0v1.0h-1.0zM822.0,873.5h1.0v1.0h-1.0zM830.5,873.2h1.0v1.0h-1.0zM824.8,875.1h1.0v1.0h-1.0zM825.6,874.5h1.0v1.0h-1.0zM836.7,872.8h1.0v1.0h-1.0zM833.2,870.0h1.0v1.0h-1.0zM815.2,873.5h1.0v1.0h-1.0zM831.6,875.1h1.0v1.0h-1.0zM816.2,875.1h1.0v1.0h-1.0zM819.2,872.8h1.0v1.0h-1.0zM824.7,874.6h1.0v1.0h-1.0zM829.2,874.8h1.0v1.0h-1.0zM818.4,875.8h1.0v1.0h-1.0zM835.3,872.0h1.0v1.0h-1.0zM831.1,871.4h1.0v1.0h-1.0zM817.2,873.6h1.0v1.0h-1.0zM822.0,879.0h1.0v1.0h-1.0zM823.1,876.6h1.0v1.0h-1.0zM828.9,873.3h1.0v1.0h-1.0zM833.4,870.7h1.0v1.0h-1.0zM835.3,872.5h1.0v1.0h-1.0zM813.6,876.0h1.0v1.0h-1.0zM832.0,873.1h1.0v1.0h-1.0zM841.0,870.3h1.0v1.0h-1.0zM831.7,873.7h1.0v1.0h-1.0zM819.3,876.3h1.0v1.0h-1.0zM813.7,872.5h1.0v1.0h-1.0zM831.4,870.4h1.0v1.0h-1.0zM825.6,870.2h1.0v1.0h-1.0zM827.3,870.9h1.0v1.0h-1.0zM829.7,869.8h1.0v1.0h-1.0zM830.9,872.0h1.0v1.0h-1.0zM827.6,872.8h1.0v1.0h-1.0zM827.8,870.5h1.0v1.0h-1.0zM804.2,876.3h1.0v1.0h-1.0zM818.5,873.4h1.0v1.0h-1.0zM830.3,868.9h1.0v1.0h-1.0zM820.0,872.9h1.0v1.0h-1.0zM817.7,874.9h1.0v1.0h-1.0zM825.5,871.7h1.0v1.0h-1.0zM818.4,875.7h1.0v1.0h-1.0zM821.3,874.9h1.0v1.0h-1.0zM830.5,869.1h1.0v1.0h-1.0zM817.3,874.4h1.0v1.0h-1.0zM830.2,874.0h1.0v1.0h-1.0zM834.4,873.8h1.0v1.0h-1.0zM823.6,873.1h1.0v1.0h-1.0zM833.8,871.3h1.0v1.0h-1.0zM836.0,868.8h1.0v1.0h-1.0z"/><ellipse cx="804" cy="876" rx="6.5" ry="2.3" fill="#e040e0"/><path fill="#e050e0" opacity="1.0" d="M806.3,875.7h1.0v1.0h-1.0zM793.2,878.0h1.0v1.0h-1.0zM804.6,876.0h1.0v1.0h-1.0zM797.6,875.1h1.0v1.0h-1.0zM810.6,874.3h1.0v1.0h-1.0zM785.6,874.3h1.0v1.0h-1.0zM797.0,875.7h1.0v1.0h-1.0zM801.0,874.2h1.0v1.0h-1.0zM798.8,878.1h1.0v1.0h-1.0zM795.8,879.9h1.0v1.0h-1.0zM800.3,873.8h1.0v1.0h-1.0zM806.9,877.1h1.0v1.0h-1.0zM797.8,877.5h1.0v1.0h-1.0zM793.8,874.2h1.0v1.0h-1.0zM808.6,875.5h1.0v1.0h-1.0zM796.5,877.0h1.0v1.0h-1.0zM807.6,876.0h1.0v1.0h-1.0zM794.0,875.3h1.0v1.0h-1.0zM805.1,877.5h1.0v1.0h-1.0zM812.3,875.5h1.0v1.0h-1.0zM800.6,875.9h1.0v1.0h-1.0zM809.0,874.1h1.0v1.0h-1.0zM809.5,870.5h1.0v1.0h-1.0zM807.0,874.6h1.0v1.0h-1.0zM805.3,877.4h1.0v1.0h-1.0zM797.1,875.8h1.0v1.0h-1.0zM804.2,877.2h1.0v1.0h-1.0zM798.3,874.0h1.0v1.0h-1.0zM793.4,881.1h1.0v1.0h-1.0zM802.0,875.6h1.0v1.0h-1.0zM795.5,877.9h1.0v1.0h-1.0zM800.3,878.9h1.0v1.0h-1.0zM807.3,876.0h1.0v1.0h-1.0zM806.6,873.8h1.0v1.0h-1.0zM801.4,874.8h1.0v1.0h-1.0zM796.7,876.0h1.0v1.0h-1.0zM802.3,878.9h1.0v1.0h-1.0zM786.2,874.7h1.0v1.0h-1.0zM798.4,875.1h1.0v1.0h-1.0zM805.1,876.8h1.0v1.0h-1.0z"/><path d="M783.5,882 C784,877 787,873 792,872.5 C797,872.3 800,875.5 799.5,878 C799,880.5 796,882 792,882 Z" fill="#10e310"/><path fill="#30ea30" opacity="0.9" d="M791.1,876.1h1.0v1.0h-1.0zM793.2,878.6h1.0v1.0h-1.0zM782.7,876.7h1.0v1.0h-1.0zM784.8,874.0h1.0v1.0h-1.0zM791.7,877.7h1.0v1.0h-1.0zM791.5,874.9h1.0v1.0h-1.0zM790.1,874.8h1.0v1.0h-1.0zM792.7,879.6h1.0v1.0h-1.0zM798.9,881.3h1.0v1.0h-1.0zM787.4,876.1h1.0v1.0h-1.0zM786.8,878.4h1.0v1.0h-1.0zM799.9,879.6h1.0v1.0h-1.0zM785.2,879.0h1.0v1.0h-1.0zM791.0,878.4h1.0v1.0h-1.0zM799.0,875.0h1.0v1.0h-1.0zM792.5,875.2h1.0v1.0h-1.0zM791.2,880.5h1.0v1.0h-1.0zM790.4,875.4h1.0v1.0h-1.0zM783.1,878.0h1.0v1.0h-1.0zM791.1,879.4h1.0v1.0h-1.0zM789.2,879.0h1.0v1.0h-1.0zM794.7,877.1h1.0v1.0h-1.0zM788.9,876.9h1.0v1.0h-1.0zM786.7,876.9h1.0v1.0h-1.0zM789.6,878.1h1.0v1.0h-1.0zM797.0,881.4h1.0v1.0h-1.0zM789.0,879.3h1.0v1.0h-1.0zM792.3,879.8h1.0v1.0h-1.0zM791.1,878.3h1.0v1.0h-1.0zM788.9,875.1h1.0v1.0h-1.0zM794.9,881.4h1.0v1.0h-1.0zM794.0,878.8h1.0v1.0h-1.0zM792.2,876.1h1.0v1.0h-1.0zM783.0,879.5h1.0v1.0h-1.0zM791.9,875.8h1.0v1.0h-1.0zM786.7,881.3h1.0v1.0h-1.0zM787.8,877.4h1.0v1.0h-1.0zM788.7,878.0h1.0v1.0h-1.0zM790.1,875.3h1.0v1.0h-1.0zM795.8,875.1h1.0v1.0h-1.0z"/><g stroke="#7a7a7a" stroke-width="1.8" fill="none"><path d="M781.6,823.8 L781.6,882 L958.2,882"/></g><text stroke="#1a1a1a" stroke-width="0.3" x="771.8" y="837.6" font-size="9.6" text-anchor="middle" font-weight="normal" fill="#1a1a1a" font-family="Liberation Sans">D</text><text stroke="#1a1a1a" stroke-width="0.3" x="771.8" y="851" font-size="9.6" text-anchor="middle" font-weight="normal" fill="#1a1a1a" font-family="Liberation Sans">I</text><text stroke="#1a1a1a" stroke-width="0.3" x="771.8" y="864.6" font-size="9.6" text-anchor="middle" font-weight="normal" fill="#1a1a1a" font-family="Liberation Sans">F</text><text stroke="#1a1a1a" stroke-width="0.3" x="771.8" y="877.8" font-size="9.6" text-anchor="middle" font-weight="normal" fill="#1a1a1a" font-family="Liberation Sans">F</text></svg>
<svg style="position:absolute;left:0;top:0" width="400" height="900"><rect x="197" y="807" width="157" height="83" fill="#fcfcfc"/><line x1="201" y1="854.8" x2="346.5" y2="854.8" stroke="#5a5a5a" stroke-width="2"/><g transform="translate(210,800) scale(0.13)" fill="none" stroke="#2f58a8" stroke-width="11" stroke-linecap="round" stroke-linejoin="round"><path d="M333,695 C320,540 310,330 318,200 C325,110 345,65 365,65 C390,65 408,140 410,220 C412,290 400,330 370,360 C340,390 300,398 272,378 C248,355 268,312 320,296 C360,286 405,292 432,330 C442,350 460,348 470,322 C480,292 492,292 500,322 C510,350 530,350 540,312 C550,282 565,286 570,320 C580,350 600,346 605,300 C610,262 625,262 630,300 C635,340 642,338 662,325 L910,325"/><path d="M412,276 C330,248 262,218 278,188 C296,160 420,164 520,180 C650,202 782,258 792,300 C797,325 740,326 650,322"/><path d="M40,515 C250,452 450,382 640,340 C720,327 800,323 910,325"/></g></svg>
<svg style="position:absolute;left:0;top:0" width="1000" height="1000"><ellipse cx="60.6" cy="972.6" rx="17" ry="12.6" fill="#0d0d0d"/><path fill="#fff" d="M58.2,985.2 L58.2,974.4 L54.6,974.4 L54.6,970.8 L58.2,970.8 L58.2,968 C58.2,964.3 60.5,962.6 64,962.6 C65.6,962.6 66.8,962.8 67.4,962.9 L67.4,966 L65.3,966 C63.8,966 63.4,966.8 63.4,967.9 L63.4,970.8 L67.4,970.8 L66.8,974.4 L63.4,974.4 L63.4,985.2 Z"/><rect x="237.8" y="961.7" width="30.6" height="20.8" rx="6.5" fill="none" stroke="#0d0d0d" stroke-width="3.4"/><ellipse cx="253.2" cy="972.2" rx="8.2" ry="6" fill="none" stroke="#0d0d0d" stroke-width="3"/><ellipse cx="262.6" cy="965.4" rx="1.8" ry="1.5" fill="#0d0d0d"/><ellipse cx="467.6" cy="972.6" rx="17.6" ry="12.6" fill="#0d0d0d"/><g stroke="#fff" stroke-width="0.8" fill="none"><ellipse cx="467.6" cy="972.6" rx="8" ry="12.6"/><line x1="467.6" y1="960.0" x2="467.6" y2="985.2"/><path d="M453.6,967.6 Q467.6,965.6 481.6,967.6 M453.6,978.1 Q467.6,980.1 481.6,978.1"/></g><rect x="451.6" y="969.6" width="32" height="6" fill="#0d0d0d"/><text x="467.6" y="975.2" font-size="7" fill="#fff" text-anchor="middle" font-family="Liberation Sans" letter-spacing="3.3">www</text><rect x="701.6" y="962.8" width="35" height="17.7" rx="1" fill="#0d0d0d"/><path d="M703.5,964.5 L719.1,974.2 L734.7,964.5 M703.5,979 L713.5,970.5 M734.7,979 L724.7,970.5" stroke="#fff" stroke-width="1.3" fill="none"/></svg>
<div class="t" style="left:711.59px;top:9.10px;font-size:14px;font-weight:normal;color:#1a1a1a;font-family:'Liberation Sans';transform:scaleX(1.2927)">Laboratorio Clínico Veterinario</div>
<div class="t" style="left:815.92px;top:37.80px;font-size:10.1px;font-weight:normal;color:#ffffff;font-family:'Liberation Sans';transform:scaleX(1.3661)">Lince:</div>
<div class="t" style="left:786.22px;top:59.80px;font-size:10.1px;font-weight:normal;color:#ffffff;font-family:'Liberation Sans';transform:scaleX(1.3661)">Los Olivos:</div>
<div class="t" style="left:813.77px;top:82.20px;font-size:10.1px;font-weight:normal;color:#ffffff;font-family:'Liberation Sans';transform:scaleX(1.3661)">Surco:</div>
<div class="t" style="left:883.76px;top:37.80px;font-size:10.1px;font-weight:normal;color:#3b6db4;font-family:'Liberation Sans';transform:scaleX(1.3530)">981 384 757</div>
<div class="t" style="left:884.76px;top:59.80px;font-size:10.1px;font-weight:normal;color:#3b6db4;font-family:'Liberation Sans';transform:scaleX(1.3530)">944 887 608</div>
<div class="t" style="left:882.86px;top:82.20px;font-size:10.1px;font-weight:normal;color:#3b6db4;font-family:'Liberation Sans';transform:scaleX(1.3530)">920 634 733</div>
<div class="t" style="left:791.76px;top:98.80px;font-size:12.7px;font-weight:normal;color:#111;font-family:'Liberation Sans';transform:scaleX(1.3058)">www.aniklabperu.com</div>
<div class="t" style="left:43.39px;top:136.60px;font-size:12.57px;font-weight:bold;color:#151515;font-family:'Liberation Sans';transform:scaleX(1.4140);-webkit-text-stroke:0px">Paciente:</div>
<div class="t" style="left:43.39px;top:154.50px;font-size:12.57px;font-weight:bold;color:#151515;font-family:'Liberation Sans';transform:scaleX(1.4140);-webkit-text-stroke:0px">Propietario:</div>
<div class="t" style="left:44.50px;top:172.60px;font-size:12.57px;font-weight:bold;color:#151515;font-family:'Liberation Sans';transform:scaleX(1.4140);-webkit-text-stroke:0px">Veterinaria:</div>
<div class="t" style="left:43.39px;top:191.30px;font-size:12.57px;font-weight:bold;color:#151515;font-family:'Liberation Sans';transform:scaleX(1.4140);-webkit-text-stroke:0px">Medico:</div>
<div class="t" style="left:374.89px;top:136.60px;font-size:12.57px;font-weight:bold;color:#151515;font-family:'Liberation Sans';transform:scaleX(1.4140);-webkit-text-stroke:0px">Especie:</div>
<div class="t" style="left:374.89px;top:154.50px;font-size:12.57px;font-weight:bold;color:#151515;font-family:'Liberation Sans';transform:scaleX(1.4140);-webkit-text-stroke:0px">Raza:</div>
<div class="t" style="left:374.89px;top:172.60px;font-size:12.57px;font-weight:bold;color:#151515;font-family:'Liberation Sans';transform:scaleX(1.4140);-webkit-text-stroke:0px">Edad:</div>
<div class="t" style="left:375.72px;top:191.00px;font-size:12.57px;font-weight:bold;color:#151515;font-family:'Liberation Sans';transform:scaleX(1.4140);-webkit-text-stroke:0px">Sexo:</div>
<div class="t" style="left:706.89px;top:136.50px;font-size:12.57px;font-weight:bold;color:#151515;font-family:'Liberation Sans';transform:scaleX(1.4140);-webkit-text-stroke:0px">N° Orden</div>
<div class="t" style="left:706.89px;top:154.75px;font-size:12.57px;font-weight:bold;color:#151515;font-family:'Liberation Sans';transform:scaleX(1.4140);-webkit-text-stroke:0px">Fecha</div>
<div class="t" style="left:149.95px;top:135.60px;font-size:12.79px;font-weight:normal;color:#151515;font-family:'Liberation Sans';transform:scaleX(1.4140)">Ojos</div>
<div class="t" style="left:155.03px;top:153.50px;font-size:12.79px;font-weight:normal;color:#151515;font-family:'Liberation Sans';transform:scaleX(1.4140)">Stephany Ceja</div>
<div class="t" style="left:152.50px;top:171.60px;font-size:12.79px;font-weight:normal;color:#151515;font-family:'Liberation Sans';transform:scaleX(1.4140)">Veterinaria Palao Y Centro</div>
<div class="t" style="left:148.59px;top:190.30px;font-size:12.79px;font-weight:normal;color:#151515;font-family:'Liberation Sans';transform:scaleX(1.4140)">Nelson Mendez</div>
<div class="t" style="left:455.55px;top:135.60px;font-size:12.79px;font-weight:normal;color:#151515;font-family:'Liberation Sans';transform:scaleX(1.4140)">Canino</div>
<div class="t" style="left:454.99px;top:153.50px;font-size:12.79px;font-weight:normal;color:#151515;font-family:'Liberation Sans';transform:scaleX(1.4140)">Mestizo</div>
<div class="t" style="left:457.15px;top:171.60px;font-size:12.79px;font-weight:normal;color:#151515;font-family:'Liberation Sans';transform:scaleX(1.4140)">7 años</div>
<div class="t" style="left:454.99px;top:190.00px;font-size:12.79px;font-weight:normal;color:#151515;font-family:'Liberation Sans';transform:scaleX(1.4140)">Macho</div>
<div class="t" style="left:805.87px;top:135.50px;font-size:12.79px;font-weight:normal;color:#151515;font-family:'Liberation Sans';transform:scaleX(1.4140)">123120690</div>
<div class="t" style="left:806.37px;top:153.75px;font-size:12.79px;font-weight:normal;color:#151515;font-family:'Liberation Sans';transform:scaleX(1.4140)">15/12/2023</div>
<div class="t" style="left:345.22px;top:227.40px;font-size:15.2px;font-weight:bold;color:#151515;font-family:'Liberation Sans';transform:scaleX(1.3526);-webkit-text-stroke:0.35px currentColor">RESULTADO HEMATOLÓGICO</div>
<div class="t" style="left:44.88px;top:258.50px;font-size:12.64px;font-weight:bold;color:#151515;font-family:'Liberation Sans';transform:scaleX(1.4140);-webkit-text-stroke:0px">Parámetro</div>
<div class="t" style="left:222.48px;top:258.50px;font-size:12.64px;font-weight:bold;color:#151515;font-family:'Liberation Sans';transform:scaleX(1.4140);-webkit-text-stroke:0px">Resultados</div>
<div class="t" style="left:367.00px;top:258.50px;font-size:12.61px;font-weight:bold;color:#151515;font-family:'Liberation Sans';transform:scaleX(1.3975);-webkit-text-stroke:0px">Valores Referenciales</div>
<div class="t" style="left:689.18px;top:258.80px;font-size:12.64px;font-weight:bold;color:#151515;font-family:'Liberation Sans';transform:scaleX(1.4140);-webkit-text-stroke:0px">Bajo</div>
<div class="t" style="left:785.88px;top:258.80px;font-size:12.64px;font-weight:bold;color:#151515;font-family:'Liberation Sans';transform:scaleX(1.4140);-webkit-text-stroke:0px">Normal</div>
<div class="t" style="left:895.62px;top:258.80px;font-size:12.64px;font-weight:bold;color:#151515;font-family:'Liberation Sans';transform:scaleX(1.4140);-webkit-text-stroke:0px">Alto</div>
<div class="t" style="left:44.42px;top:278.10px;font-size:10.67px;font-weight:normal;color:#151515;font-family:'Liberation Sans';transform:scaleX(1.4140)">Eritrocitos</div>
<div class="t" style="left:44.42px;top:294.10px;font-size:10.67px;font-weight:normal;color:#151515;font-family:'Liberation Sans';transform:scaleX(1.4140)">Hematocrito</div>
<div class="t" style="left:44.42px;top:310.60px;font-size:10.67px;font-weight:normal;color:#151515;font-family:'Liberation Sans';transform:scaleX(1.4140)">Hemoglobina</div>
<div class="t" style="left:45.60px;top:326.60px;font-size:10.67px;font-weight:normal;color:#151515;font-family:'Liberation Sans';transform:scaleX(1.4140)">VCM</div>
<div class="t" style="left:44.42px;top:342.60px;font-size:10.67px;font-weight:normal;color:#151515;font-family:'Liberation Sans';transform:scaleX(1.4140)">HCM</div>
<div class="t" style="left:44.89px;top:358.60px;font-size:10.67px;font-weight:normal;color:#151515;font-family:'Liberation Sans';transform:scaleX(1.4140)">CHCM</div>
<div class="t" style="left:44.42px;top:375.10px;font-size:10.67px;font-weight:normal;color:#151515;font-family:'Liberation Sans';transform:scaleX(1.4140)">RDW_CV</div>
<div class="t" style="left:234.49px;top:278.10px;font-size:10.67px;font-weight:normal;color:#151515;font-family:'Liberation Sans';transform:scaleX(1.4140)">7,430,000</div>
<div class="t" style="left:234.73px;top:294.10px;font-size:10.67px;font-weight:normal;color:#151515;font-family:'Liberation Sans';transform:scaleX(1.4140)">56.90</div>
<div class="t" style="left:234.26px;top:310.60px;font-size:10.67px;font-weight:normal;color:#151515;font-family:'Liberation Sans';transform:scaleX(1.4140)">16.50</div>
<div class="t" style="left:234.49px;top:326.60px;font-size:10.67px;font-weight:normal;color:#151515;font-family:'Liberation Sans';transform:scaleX(1.4140)">76.60</div>
<div class="t" style="left:234.49px;top:342.60px;font-size:10.67px;font-weight:normal;color:#151515;font-family:'Liberation Sans';transform:scaleX(1.4140)">22.20</div>
<div class="t" style="left:234.49px;top:358.60px;font-size:10.67px;font-weight:normal;color:#151515;font-family:'Liberation Sans';transform:scaleX(1.4140)">28.90</div>
<div class="t" style="left:234.26px;top:375.10px;font-size:10.67px;font-weight:normal;color:#151515;font-family:'Liberation Sans';transform:scaleX(1.4140)">13.40</div>
<div class="t" style="left:389.53px;top:278.10px;font-size:10.67px;font-weight:normal;color:#151515;font-family:'Liberation Sans';transform:scaleX(1.4140)">5,500,000-8,500,000 /uL</div>
<div class="t" style="left:389.53px;top:294.10px;font-size:10.67px;font-weight:normal;color:#151515;font-family:'Liberation Sans';transform:scaleX(1.4140)">37-55 %</div>
<div class="t" style="left:389.06px;top:310.60px;font-size:10.67px;font-weight:normal;color:#151515;font-family:'Liberation Sans';transform:scaleX(1.4140)">12-18 g/dL</div>
<div class="t" style="left:389.29px;top:326.60px;font-size:10.67px;font-weight:normal;color:#151515;font-family:'Liberation Sans';transform:scaleX(1.4140)">62-78 fL</div>
<div class="t" style="left:389.06px;top:342.60px;font-size:10.67px;font-weight:normal;color:#151515;font-family:'Liberation Sans';transform:scaleX(1.4140)">19.5-24.5 pg</div>
<div class="t" style="left:389.53px;top:358.60px;font-size:10.67px;font-weight:normal;color:#151515;font-family:'Liberation Sans';transform:scaleX(1.4140)">32-36 g/dL</div>
<div class="t" style="left:389.06px;top:375.10px;font-size:10.67px;font-weight:normal;color:#151515;font-family:'Liberation Sans';transform:scaleX(1.4140)">11-19 %</div>
<div class="t" style="left:43.62px;top:402.30px;font-size:10.67px;font-weight:normal;color:#151515;font-family:'Liberation Sans';transform:scaleX(1.4140)">Leucocitos</div>
<div class="t" style="left:44.33px;top:417.00px;font-size:10.67px;font-weight:normal;color:#151515;font-family:'Liberation Sans';transform:scaleX(1.4140)">% Segmentados</div>
<div class="t" style="left:44.33px;top:432.70px;font-size:10.67px;font-weight:normal;color:#151515;font-family:'Liberation Sans';transform:scaleX(1.4140)">% Linfocitos</div>
<div class="t" style="left:44.33px;top:447.10px;font-size:10.67px;font-weight:normal;color:#151515;font-family:'Liberation Sans';transform:scaleX(1.4140)">% Monocitos</div>
<div class="t" style="left:44.33px;top:462.60px;font-size:10.67px;font-weight:normal;color:#151515;font-family:'Liberation Sans';transform:scaleX(1.4140)">% Eosinófilos</div>
<div class="t" style="left:44.33px;top:477.50px;font-size:10.67px;font-weight:normal;color:#151515;font-family:'Liberation Sans';transform:scaleX(1.4140)">% Basófilos</div>
<div class="t" style="left:232.79px;top:402.30px;font-size:10.67px;font-weight:normal;color:#151515;font-family:'Liberation Sans';transform:scaleX(1.4140)">7,680</div>
<div class="t" style="left:232.79px;top:417.00px;font-size:10.67px;font-weight:normal;color:#151515;font-family:'Liberation Sans';transform:scaleX(1.4140)">24.14</div>
<div class="t" style="left:232.79px;top:432.70px;font-size:10.67px;font-weight:normal;color:#151515;font-family:'Liberation Sans';transform:scaleX(1.4140)">64.77</div>
<div class="t" style="left:233.03px;top:447.10px;font-size:10.67px;font-weight:normal;color:#151515;font-family:'Liberation Sans';transform:scaleX(1.4140)">3.44</div>
<div class="t" style="left:232.79px;top:462.60px;font-size:10.67px;font-weight:normal;color:#151515;font-family:'Liberation Sans';transform:scaleX(1.4140)">7.63</div>
<div class="t" style="left:233.03px;top:477.50px;font-size:10.67px;font-weight:normal;color:#151515;font-family:'Liberation Sans';transform:scaleX(1.4140)">0.02</div>
<div class="t" style="left:384.29px;top:402.30px;font-size:10.67px;font-weight:normal;color:#151515;font-family:'Liberation Sans';transform:scaleX(1.4140)">6,000-17,000 /uL</div>
<div class="t" style="left:384.53px;top:417.00px;font-size:10.67px;font-weight:normal;color:#151515;font-family:'Liberation Sans';transform:scaleX(1.4140)">52-81 %</div>
<div class="t" style="left:384.06px;top:432.70px;font-size:10.67px;font-weight:normal;color:#151515;font-family:'Liberation Sans';transform:scaleX(1.4140)">12-33 %</div>
<div class="t" style="left:384.29px;top:447.10px;font-size:10.67px;font-weight:normal;color:#151515;font-family:'Liberation Sans';transform:scaleX(1.4140)">2-13 %</div>
<div class="t" style="left:384.53px;top:462.60px;font-size:10.67px;font-weight:normal;color:#151515;font-family:'Liberation Sans';transform:scaleX(1.4140)">0.5-10 %</div>
<div class="t" style="left:384.53px;top:477.50px;font-size:10.67px;font-weight:normal;color:#151515;font-family:'Liberation Sans';transform:scaleX(1.4140)">0-1.3 %</div>
<div class="t" style="left:45.13px;top:511.30px;font-size:10.67px;font-weight:normal;color:#151515;font-family:'Liberation Sans';transform:scaleX(1.4140)">Segmentados</div>
<div class="t" style="left:44.42px;top:529.90px;font-size:10.67px;font-weight:normal;color:#151515;font-family:'Liberation Sans';transform:scaleX(1.4140)">Linfocitos</div>
<div class="t" style="left:44.42px;top:549.40px;font-size:10.67px;font-weight:normal;color:#151515;font-family:'Liberation Sans';transform:scaleX(1.4140)">Monocitos</div>
<div class="t" style="left:44.42px;top:568.30px;font-size:10.67px;font-weight:normal;color:#151515;font-family:'Liberation Sans';transform:scaleX(1.4140)">Eosinófilos</div>
<div class="t" style="left:44.42px;top:587.00px;font-size:10.67px;font-weight:normal;color:#151515;font-family:'Liberation Sans';transform:scaleX(1.4140)">Basófilos</div>
<div class="t" style="left:227.46px;top:511.50px;font-size:10.67px;font-weight:normal;color:#151515;font-family:'Liberation Sans';transform:scaleX(1.4140)">1,856</div>
<div class="t" style="left:228.16px;top:530.50px;font-size:10.67px;font-weight:normal;color:#151515;font-family:'Liberation Sans';transform:scaleX(1.4140)">4,974</div>
<div class="t" style="left:227.69px;top:549.60px;font-size:10.67px;font-weight:normal;color:#151515;font-family:'Liberation Sans';transform:scaleX(1.4140)">264</div>
<div class="t" style="left:227.93px;top:568.50px;font-size:10.67px;font-weight:normal;color:#151515;font-family:'Liberation Sans';transform:scaleX(1.4140)">585</div>
<div class="t" style="left:227.46px;top:586.80px;font-size:10.67px;font-weight:normal;color:#151515;font-family:'Liberation Sans';transform:scaleX(1.4140)">1</div>
<div class="t" style="left:383.13px;top:511.50px;font-size:10.67px;font-weight:normal;color:#151515;font-family:'Liberation Sans';transform:scaleX(1.4140)">3,620-11,320 /uL</div>
<div class="t" style="left:383.13px;top:530.50px;font-size:10.67px;font-weight:normal;color:#151515;font-family:'Liberation Sans';transform:scaleX(1.4140)">830-4,690 /uL</div>
<div class="t" style="left:382.66px;top:549.60px;font-size:10.67px;font-weight:normal;color:#151515;font-family:'Liberation Sans';transform:scaleX(1.4140)">140-1,970 /uL</div>
<div class="t" style="left:383.36px;top:568.50px;font-size:10.67px;font-weight:normal;color:#151515;font-family:'Liberation Sans';transform:scaleX(1.4140)">40-1,560 /uL</div>
<div class="t" style="left:383.13px;top:586.80px;font-size:10.67px;font-weight:normal;color:#151515;font-family:'Liberation Sans';transform:scaleX(1.4140)">0-120 /uL</div>
<div class="t" style="left:43.62px;top:611.00px;font-size:10.67px;font-weight:normal;color:#151515;font-family:'Liberation Sans';transform:scaleX(1.4140)">Plaquetas</div>
<div class="t" style="left:43.62px;top:630.50px;font-size:10.67px;font-weight:normal;color:#151515;font-family:'Liberation Sans';transform:scaleX(1.4140)">MPV</div>
<div class="t" style="left:43.62px;top:650.70px;font-size:10.67px;font-weight:normal;color:#151515;font-family:'Liberation Sans';transform:scaleX(1.4140)">PDW</div>
<div class="t" style="left:43.62px;top:670.20px;font-size:10.67px;font-weight:normal;color:#151515;font-family:'Liberation Sans';transform:scaleX(1.4140)">PCT</div>
<div class="t" style="left:43.62px;top:690.50px;font-size:10.67px;font-weight:normal;color:#151515;font-family:'Liberation Sans';transform:scaleX(1.4140)">P_LCR</div>
<div class="t" style="left:227.69px;top:610.60px;font-size:10.67px;font-weight:normal;color:#151515;font-family:'Liberation Sans';transform:scaleX(1.4140)">205,000</div>
<div class="t" style="left:227.69px;top:629.50px;font-size:10.67px;font-weight:normal;color:#151515;font-family:'Liberation Sans';transform:scaleX(1.4140)">9.10</div>
<div class="t" style="left:227.46px;top:649.60px;font-size:10.67px;font-weight:normal;color:#151515;font-family:'Liberation Sans';transform:scaleX(1.4140)">14.70</div>
<div class="t" style="left:227.93px;top:669.50px;font-size:10.67px;font-weight:normal;color:#151515;font-family:'Liberation Sans';transform:scaleX(1.4140)">0.18</div>
<div class="t" style="left:227.93px;top:688.90px;font-size:10.67px;font-weight:normal;color:#151515;font-family:'Liberation Sans';transform:scaleX(1.4140)">33.83</div>
<div class="t" style="left:379.89px;top:610.60px;font-size:10.67px;font-weight:normal;color:#151515;font-family:'Liberation Sans';transform:scaleX(1.4140)">200,000-500,000 /uL</div>
<div class="t" style="left:380.13px;top:629.50px;font-size:10.67px;font-weight:normal;color:#151515;font-family:'Liberation Sans';transform:scaleX(1.4140)">5-15 fL</div>
<div class="t" style="left:379.66px;top:649.60px;font-size:10.67px;font-weight:normal;color:#151515;font-family:'Liberation Sans';transform:scaleX(1.4140)">1-30 fL</div>
<div class="t" style="left:380.13px;top:669.50px;font-size:10.67px;font-weight:normal;color:#151515;font-family:'Liberation Sans';transform:scaleX(1.4140)">0.09-0.50 fL</div>
<div class="t" style="left:379.66px;top:688.90px;font-size:10.67px;font-weight:normal;color:#151515;font-family:'Liberation Sans';transform:scaleX(1.4140)">10-60 %</div>
<div class="t" style="left:45.89px;top:720.00px;font-size:11.56px;font-weight:bold;color:#151515;font-family:'Liberation Sans';transform:scaleX(1.4140);-webkit-text-stroke:0px">Observaciones:</div>
<div class="t" style="left:46.47px;top:749.90px;font-size:10.8px;font-weight:normal;color:#151515;font-family:'Liberation Sans';transform:scaleX(1.3909)">* Macroplaquetas</div>
<div class="t" style="left:197.21px;top:856.00px;font-size:11.2px;font-weight:normal;color:#222;font-family:'Liberation Serif';transform:scaleX(1.4035);-webkit-text-stroke:0.3px currentColor">G. Iván Diestro Caloretti</div>
<div class="t" style="left:221.52px;top:866.80px;font-size:8.4px;font-weight:normal;color:#1a1a1a;font-family:'Liberation Sans';transform:scaleX(1.1856);-webkit-text-stroke:0.3px currentColor">MEDICO VETERINARIO</div>
<div class="t" style="left:239.73px;top:875.00px;font-size:8.4px;font-weight:normal;color:#1a1a1a;font-family:'Liberation Sans';transform:scaleX(1.2051);-webkit-text-stroke:0.3px currentColor">C.M.V.P 5129</div>
<div class="t" style="left:82.82px;top:970.00px;font-size:9.2px;font-weight:bold;color:#111;font-family:'Liberation Sans';transform:scaleX(1.2811);-webkit-text-stroke:0px">Aniklab</div>
<div class="t" style="left:277.44px;top:970.00px;font-size:9.2px;font-weight:bold;color:#111;font-family:'Liberation Sans';transform:scaleX(1.2878);-webkit-text-stroke:0px">@Aniklab.peru</div>
<div class="t" style="left:493.18px;top:969.40px;font-size:9.2px;font-weight:bold;color:#111;font-family:'Liberation Sans';transform:scaleX(1.2763);-webkit-text-stroke:0px">www.aniklabperu.com</div>
<div class="t" style="left:746.26px;top:952.50px;font-size:9.8px;font-weight:bold;color:#111;font-family:'Liberation Sans';transform:scaleX(1.2006);-webkit-text-stroke:0px">Laboratorio@aniklabperu.com</div>
<div class="t" style="left:746.26px;top:967.60px;font-size:9.8px;font-weight:bold;color:#111;font-family:'Liberation Sans';transform:scaleX(1.2006);-webkit-text-stroke:0px">Laboratorio.norte@aniklabperu.com</div>
<div class="t" style="left:746.26px;top:981.90px;font-size:9.8px;font-weight:bold;color:#111;font-family:'Liberation Sans';transform:scaleX(1.2006);-webkit-text-stroke:0px">Laboratoriosur@aniklabperu.com</div>
<div class="t" style="left:48.31px;top:105.40px;font-size:10.8px;font-weight:bold;color:#1a1a1a;font-family:'Liberation Sans';transform:scaleX(1.2919);-webkit-text-stroke:0px">-Laboratorio Clínico Veterinario-</div>
</body></html>
